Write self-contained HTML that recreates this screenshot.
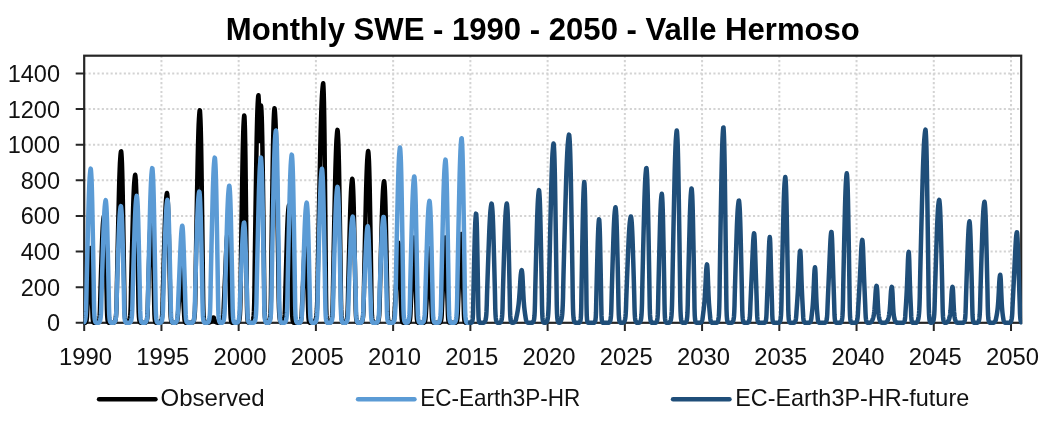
<!DOCTYPE html>
<html lang="en"><head><meta charset="utf-8"><title>Monthly SWE - 1990 - 2050 - Valle Hermoso</title>
<style>html,body{margin:0;padding:0;background:#fff;overflow:hidden}svg{display:block}</style></head>
<body>
<svg width="1058" height="427" viewBox="0 0 1058 427">
<rect width="1058" height="427" fill="#fff"/>
<path d="M84.2,287.18H1021.2M84.2,251.56H1021.2M84.2,215.94H1021.2M84.2,180.32H1021.2M84.2,144.70H1021.2M84.2,109.08H1021.2M84.2,73.46H1021.2M161.44,55.7V322.8M238.67,55.7V322.8M315.90,55.7V322.8M393.14,55.7V322.8M470.37,55.7V322.8M547.61,55.7V322.8M624.85,55.7V322.8M702.08,55.7V322.8M779.32,55.7V322.8M856.55,55.7V322.8M933.78,55.7V322.8M1011.02,55.7V322.8" stroke="#d3d3d3" stroke-width="2" stroke-dasharray="2.1 2.3" fill="none"/>
<defs><clipPath id="c"><rect x="83.60000000000001" y="55.7" width="938.6" height="269.70000000000005"/></clipPath></defs>
<path d="M75.7,322.80H84.2M75.7,287.18H84.2M75.7,251.56H84.2M75.7,215.94H84.2M75.7,180.32H84.2M75.7,144.70H84.2M75.7,109.08H84.2M75.7,73.46H84.2M84.20,322.8V330.90000000000003M161.44,322.8V330.90000000000003M238.67,322.8V330.90000000000003M315.90,322.8V330.90000000000003M393.14,322.8V330.90000000000003M470.37,322.8V330.90000000000003M547.61,322.8V330.90000000000003M624.85,322.8V330.90000000000003M702.08,322.8V330.90000000000003M779.32,322.8V330.90000000000003M856.55,322.8V330.90000000000003M933.78,322.8V330.90000000000003M1011.02,322.8V330.90000000000003" stroke="#262626" stroke-width="2" fill="none"/>
<rect x="84.2" y="55.7" width="937.0" height="267.1" fill="none" stroke="#262626" stroke-width="2.2"/>
<g clip-path="url(#c)" fill="none" stroke-linejoin="round" stroke-linecap="round">
<path d="M84.20,322.80 L84.45,322.79 L84.70,322.78 L84.95,322.77 L85.20,322.74 L85.45,322.62 L85.70,322.40 L85.95,322.07 L86.20,321.58 L86.45,320.75 L86.70,319.39 L86.95,316.85 L87.20,311.69 L87.45,306.86 L87.70,302.07 L87.95,297.12 L88.20,291.99 L88.45,286.41 L88.70,280.10 L88.95,273.06 L89.20,265.93 L89.45,258.31 L89.70,252.75 L89.95,249.56 L90.20,248.00 L90.45,250.57 L90.70,256.33 L90.95,266.37 L91.20,275.98 L91.45,284.99 L91.70,292.61 L91.95,299.46 L92.20,306.03 L92.45,312.69 L92.70,318.37 L92.95,320.62 L93.20,321.71 L93.45,322.28 L93.70,322.61 L93.95,322.75 L94.20,322.78 L94.45,322.79 L94.70,322.80 L94.95,322.80 L95.20,322.80 L95.45,322.80 L95.70,322.80 L95.95,322.80 L96.20,322.80 L96.45,322.80 L96.70,322.79 L96.95,322.77 L97.20,322.74 L97.45,322.71 L97.70,322.66 L97.95,322.52 L98.20,322.29 L98.45,322.00 L98.70,321.57 L98.95,320.92 L99.20,319.95 L99.45,318.31 L99.70,315.65 L99.95,310.83 L100.20,301.23 L100.45,292.12 L100.70,283.94 L100.95,275.81 L101.20,267.94 L101.45,260.31 L101.70,252.94 L101.95,245.57 L102.20,238.56 L102.45,232.96 L102.70,228.05 L102.95,223.93 L103.20,221.02 L103.45,218.82 L103.70,217.05 L103.95,216.03 L104.20,216.88 L104.45,219.31 L104.70,222.57 L104.95,227.78 L105.20,234.49 L105.45,242.99 L105.70,252.94 L105.95,262.97 L106.20,273.46 L106.45,284.42 L106.70,295.62 L106.95,309.21 L107.20,316.07 L107.45,319.17 L107.70,320.79 L107.95,321.66 L108.20,322.16 L108.45,322.49 L108.70,322.68 L108.95,322.73 L109.20,322.77 L109.45,322.79 L109.70,322.80 L109.95,322.80 L110.20,322.80 L110.45,322.80 L110.70,322.80 L110.95,322.80 L111.20,322.80 L111.45,322.80 L111.70,322.80 L111.95,322.80 L112.20,322.80 L112.45,322.80 L112.70,322.80 L112.95,322.78 L113.20,322.76 L113.45,322.73 L113.70,322.68 L113.95,322.63 L114.20,322.51 L114.45,322.26 L114.70,321.91 L114.95,321.49 L115.20,320.86 L115.45,319.95 L115.70,318.68 L115.95,316.61 L116.20,313.56 L116.45,308.17 L116.70,299.18 L116.95,283.81 L117.20,271.32 L117.45,259.50 L117.70,247.74 L117.95,236.30 L118.20,225.20 L118.45,214.41 L118.70,203.85 L118.95,193.21 L119.20,183.79 L119.45,176.17 L119.70,169.25 L119.95,163.45 L120.20,159.26 L120.45,156.03 L120.70,153.31 L120.95,151.46 L121.20,151.39 L121.45,154.03 L121.70,158.08 L121.95,163.45 L122.20,171.59 L122.45,181.46 L122.70,193.82 L122.95,208.24 L123.20,222.63 L123.45,237.63 L123.70,253.25 L123.95,269.23 L124.20,286.36 L124.45,304.63 L124.70,313.08 L124.95,317.18 L125.20,319.49 L125.45,320.81 L125.70,321.62 L125.95,322.14 L126.20,322.51 L126.45,322.65 L126.70,322.71 L126.95,322.76 L127.20,322.77 L127.45,322.75 L127.70,322.71 L127.95,322.67 L128.20,322.61 L128.45,322.43 L128.70,322.16 L128.95,321.82 L129.20,321.37 L129.45,320.69 L129.70,319.75 L129.95,318.28 L130.20,316.01 L130.45,312.36 L130.70,306.22 L130.95,294.45 L131.20,282.63 L131.45,272.37 L131.70,262.19 L131.95,252.21 L132.20,242.55 L132.45,233.14 L132.70,224.04 L132.95,214.82 L133.20,206.13 L133.45,199.09 L133.70,192.87 L133.95,187.43 L134.20,183.22 L134.45,180.26 L134.70,177.71 L134.95,175.78 L135.20,174.80 L135.45,176.37 L135.70,179.46 L135.95,183.42 L136.20,189.55 L136.45,197.58 L136.70,207.08 L136.95,219.17 L137.20,231.51 L137.45,244.24 L137.70,257.46 L137.95,271.18 L138.20,285.15 L138.45,302.32 L138.70,312.07 L138.95,316.76 L139.20,319.32 L139.45,320.69 L139.70,321.56 L139.95,322.07 L140.20,322.45 L140.45,322.65 L140.70,322.71 L140.95,322.75 L141.20,322.78 L141.45,322.80 L141.70,322.80 L141.95,322.80 L142.20,322.80 L142.45,322.80 L142.70,322.80 L142.95,322.80 L143.20,322.80 L143.45,322.80 L143.70,322.80 L143.95,322.80 L144.20,322.80 L144.45,322.79 L144.70,322.78 L144.95,322.76 L145.20,322.73 L145.45,322.69 L145.70,322.58 L145.95,322.36 L146.20,322.08 L146.45,321.67 L146.70,321.02 L146.95,320.04 L147.20,318.34 L147.45,315.47 L147.70,310.18 L147.95,299.49 L148.20,290.27 L148.45,281.63 L148.70,273.09 L148.95,264.86 L149.20,256.89 L149.45,249.16 L149.70,241.41 L149.95,234.86 L150.20,229.49 L150.45,224.85 L150.70,221.47 L150.95,219.08 L151.20,217.15 L151.45,216.03 L151.70,216.97 L151.95,219.62 L152.20,223.28 L152.45,229.19 L152.70,236.58 L152.95,246.38 L153.20,256.89 L153.45,267.73 L153.70,279.09 L153.95,290.78 L154.20,304.25 L154.45,314.45 L154.70,318.58 L154.95,320.57 L155.20,321.57 L155.45,322.13 L155.70,322.49 L155.95,322.68 L156.20,322.74 L156.45,322.77 L156.70,322.79 L156.95,322.80 L157.20,322.80 L157.45,322.80 L157.70,322.80 L157.95,322.80 L158.20,322.80 L158.45,322.80 L158.70,322.79 L158.95,322.78 L159.20,322.76 L159.45,322.73 L159.70,322.70 L159.95,322.65 L160.20,322.52 L160.45,322.29 L160.70,322.01 L160.95,321.64 L161.20,321.09 L161.45,320.31 L161.70,319.15 L161.95,317.30 L162.20,314.46 L162.45,309.51 L162.70,300.38 L162.95,289.44 L163.20,280.34 L163.45,271.41 L163.70,262.61 L163.95,254.08 L164.20,245.78 L164.45,237.74 L164.70,229.69 L164.95,221.88 L165.20,215.42 L165.45,209.86 L165.70,204.93 L165.95,200.99 L166.20,198.25 L166.45,195.93 L166.70,194.11 L166.95,193.06 L167.20,193.94 L167.45,196.44 L167.70,199.74 L167.95,204.66 L168.20,211.45 L168.45,219.40 L168.70,229.69 L168.95,240.54 L169.20,251.61 L169.45,263.12 L169.70,275.09 L169.95,287.24 L170.20,301.80 L170.45,312.11 L170.70,316.90 L170.95,319.40 L171.20,320.75 L171.45,321.59 L171.70,322.08 L171.95,322.43 L172.20,322.65 L172.45,322.71 L172.70,322.75 L172.95,322.78 L173.20,322.80 L173.45,322.80 L173.70,322.80 L173.95,322.80 L174.20,322.80 L174.45,322.80 L174.70,322.79 L174.95,322.79 L175.20,322.78 L175.45,322.77 L175.70,322.73 L175.95,322.62 L176.20,322.44 L176.45,322.20 L176.70,321.87 L176.95,321.37 L177.20,320.60 L177.45,319.43 L177.70,317.53 L177.95,313.96 L178.20,310.69 L178.45,307.46 L178.70,304.08 L178.95,300.54 L179.20,296.78 L179.45,292.57 L179.70,287.77 L179.95,282.15 L180.20,276.24 L180.45,269.92 L180.70,263.59 L180.95,259.40 L181.20,256.72 L181.45,255.21 L181.70,256.47 L181.95,260.12 L182.20,267.18 L182.45,275.90 L182.70,283.85 L182.95,290.94 L183.20,296.78 L183.45,301.81 L183.70,306.48 L183.95,310.87 L184.20,315.55 L184.45,319.06 L184.70,320.70 L184.95,321.63 L185.20,322.15 L185.45,322.48 L185.70,322.69 L185.95,322.77 L186.20,322.78 L186.45,322.79 L186.70,322.80 L186.95,322.80 L187.20,322.80 L187.45,322.80 L187.70,322.80 L187.95,322.80 L188.20,322.80 L188.45,322.80 L188.70,322.80 L188.95,322.80 L189.20,322.80 L189.45,322.80 L189.70,322.80 L189.95,322.80 L190.20,322.80 L190.45,322.80 L190.70,322.80 L190.95,322.80 L191.20,322.80 L191.45,322.79 L191.70,322.77 L191.95,322.74 L192.20,322.70 L192.45,322.64 L192.70,322.58 L192.95,322.39 L193.20,322.05 L193.45,321.60 L193.70,321.04 L193.95,320.20 L194.20,319.00 L194.45,317.27 L194.70,314.48 L194.95,310.31 L195.20,302.90 L195.45,289.93 L195.70,271.22 L195.95,256.06 L196.20,241.41 L196.45,226.90 L196.70,212.82 L196.95,199.13 L197.20,185.85 L197.45,172.71 L197.70,159.68 L197.95,148.52 L198.20,139.28 L198.45,130.92 L198.70,124.08 L198.95,119.28 L199.20,115.37 L199.45,112.18 L199.70,110.16 L199.95,110.82 L200.20,114.53 L200.45,119.77 L200.70,127.08 L200.95,137.72 L201.20,150.27 L201.45,166.46 L201.70,184.32 L201.95,202.32 L202.20,221.04 L202.45,240.55 L202.70,260.39 L202.95,282.94 L203.20,302.90 L203.45,312.04 L203.70,316.57 L203.95,319.08 L204.20,320.59 L204.45,321.48 L204.70,322.10 L204.95,322.50 L205.20,322.63 L205.45,322.71 L205.70,322.76 L205.95,322.79 L206.20,322.80 L206.45,322.80 L206.70,322.80 L206.95,322.79 L207.20,322.78 L207.45,322.77 L207.70,322.75 L207.95,322.73 L208.20,322.70 L208.45,322.67 L208.70,322.62 L208.95,322.58 L209.20,322.52 L209.45,322.45 L209.70,322.36 L209.95,322.27 L210.20,322.15 L210.45,322.01 L210.70,321.84 L210.95,321.62 L211.20,321.34 L211.45,320.99 L211.70,320.51 L211.95,319.98 L212.20,319.39 L212.45,318.72 L212.70,318.15 L212.95,317.83 L213.20,317.59 L213.45,317.46 L213.70,317.57 L213.95,317.90 L214.20,318.46 L214.45,319.35 L214.70,320.14 L214.95,320.84 L215.20,321.34 L215.45,321.70 L215.70,321.96 L215.95,322.16 L216.20,322.31 L216.45,322.43 L216.70,322.53 L216.95,322.60 L217.20,322.66 L217.45,322.71 L217.70,322.74 L217.95,322.77 L218.20,322.79 L218.45,322.80 L218.70,322.80 L218.95,322.80 L219.20,322.80 L219.45,322.80 L219.70,322.80 L219.95,322.80 L220.20,322.79 L220.45,322.78 L220.70,322.77 L220.95,322.75 L221.20,322.71 L221.45,322.61 L221.70,322.43 L221.95,322.20 L222.20,321.85 L222.45,321.36 L222.70,320.63 L222.95,319.44 L223.20,317.58 L223.45,314.35 L223.70,308.06 L223.95,302.01 L224.20,296.49 L224.45,290.91 L224.70,285.36 L224.95,279.83 L225.20,274.23 L225.45,268.35 L225.70,262.26 L225.95,256.44 L226.20,250.87 L226.45,245.30 L226.70,240.56 L226.95,237.40 L227.20,235.12 L227.45,233.84 L227.70,234.91 L227.95,238.02 L228.20,243.17 L228.45,250.55 L228.70,258.12 L228.95,266.21 L229.20,274.23 L229.45,281.78 L229.70,289.27 L229.95,296.81 L230.20,304.35 L230.45,313.27 L230.70,317.86 L230.95,320.06 L231.20,321.25 L231.45,321.92 L231.70,322.33 L231.95,322.60 L232.20,322.73 L232.45,322.76 L232.70,322.78 L232.95,322.79 L233.20,322.80 L233.45,322.80 L233.70,322.80 L233.95,322.80 L234.20,322.80 L234.45,322.80 L234.70,322.80 L234.95,322.80 L235.20,322.80 L235.45,322.80 L235.70,322.80 L235.95,322.80 L236.20,322.80 L236.45,322.80 L236.70,322.80 L236.95,322.80 L237.20,322.79 L237.45,322.76 L237.70,322.72 L237.95,322.66 L238.20,322.59 L238.45,322.39 L238.70,321.98 L238.95,321.43 L239.20,320.67 L239.45,319.45 L239.70,317.63 L239.95,314.46 L240.20,309.24 L240.45,299.50 L240.70,279.71 L240.95,261.42 L241.20,244.70 L241.45,228.16 L241.70,212.18 L241.95,196.70 L242.20,181.76 L242.45,166.69 L242.70,153.50 L242.95,142.96 L243.20,133.69 L243.45,126.65 L243.70,121.88 L243.95,117.93 L244.20,115.41 L244.45,116.45 L244.70,121.88 L244.95,129.83 L245.20,142.96 L245.45,159.68 L245.70,181.76 L245.95,204.37 L246.20,228.16 L246.45,253.06 L246.70,279.71 L246.95,304.96 L247.20,314.46 L247.45,318.66 L247.70,320.67 L247.95,321.72 L248.20,322.39 L248.45,322.63 L248.70,322.72 L248.95,322.78 L249.20,322.80 L249.45,322.80 L249.70,322.80 L249.95,322.80 L250.20,322.80 L250.45,322.80 L250.70,322.80 L250.95,322.79 L251.20,322.76 L251.45,322.71 L251.70,322.66 L251.95,322.58 L252.20,322.41 L252.45,322.02 L252.70,321.48 L252.95,320.79 L253.20,319.69 L253.45,318.11 L253.70,315.51 L253.95,311.40 L254.20,304.01 L254.45,290.68 L254.70,268.40 L254.95,250.38 L255.20,232.98 L255.45,215.84 L255.70,199.29 L255.95,183.22 L256.20,167.67 L256.45,151.96 L256.70,138.07 L256.95,126.96 L257.20,117.06 L257.45,109.21 L257.70,103.90 L257.95,99.49 L258.20,96.27 L258.45,95.28 L258.70,98.81 L258.95,104.75 L259.20,113.06 L259.45,125.72 L259.70,141.03 L259.95,129.03 L260.20,119.34 L260.45,113.10 L260.70,108.24 L260.95,105.39 L261.20,106.79 L261.45,110.99 L261.70,116.52 L261.95,124.77 L262.20,136.15 L262.45,149.47 L262.70,166.72 L262.95,184.91 L263.20,203.47 L263.45,222.76 L263.70,242.82 L263.95,263.18 L264.20,287.60 L264.45,304.88 L264.70,312.91 L264.95,317.10 L265.20,319.36 L265.45,320.77 L265.70,321.59 L265.95,322.19 L266.20,322.54 L266.45,322.65 L266.70,322.72 L266.95,322.77 L267.20,322.79 L267.45,322.80 L267.70,322.80 L267.95,322.78 L268.20,322.74 L268.45,322.69 L268.70,322.62 L268.95,322.47 L269.20,322.08 L269.45,321.51 L269.70,320.73 L269.95,319.43 L270.20,317.45 L270.45,313.88 L270.70,307.65 L270.95,295.66 L271.20,272.41 L271.45,253.29 L271.70,234.84 L271.95,216.81 L272.20,199.46 L272.45,182.73 L272.70,166.09 L272.95,150.67 L273.20,138.64 L273.45,128.17 L273.70,120.23 L273.95,114.95 L274.20,110.69 L274.45,108.21 L274.70,109.13 L274.95,111.96 L275.20,115.87 L275.45,120.46 L275.70,127.14 L275.95,135.75 L276.20,145.54 L276.45,157.14 L276.70,171.06 L276.95,185.16 L277.20,199.46 L277.45,214.21 L277.70,229.43 L277.95,245.10 L278.20,260.85 L278.45,278.17 L278.70,297.52 L278.95,307.32 L279.20,313.02 L279.45,316.46 L279.70,318.61 L279.95,319.98 L280.20,320.94 L280.45,321.56 L280.70,322.05 L280.95,322.41 L281.20,322.59 L281.45,322.65 L281.70,322.71 L281.95,322.75 L282.20,322.74 L282.45,322.70 L282.70,322.65 L282.95,322.49 L283.20,322.24 L283.45,321.92 L283.70,321.45 L283.95,320.74 L284.20,319.67 L284.45,317.86 L284.70,314.93 L284.95,309.64 L285.20,299.07 L285.45,289.05 L285.70,280.05 L285.95,271.11 L286.20,262.45 L286.45,254.06 L286.70,245.95 L286.95,237.85 L287.20,230.14 L287.45,223.98 L287.70,218.58 L287.95,214.05 L288.20,210.84 L288.45,208.42 L288.70,206.47 L288.95,205.35 L289.20,206.29 L289.45,208.96 L289.70,212.54 L289.95,218.28 L290.20,225.66 L290.45,235.01 L290.70,245.95 L290.95,256.99 L291.20,268.53 L291.45,280.58 L291.70,292.90 L291.95,307.86 L292.20,315.39 L292.45,318.81 L292.70,320.59 L292.95,321.55 L293.20,322.10 L293.45,322.46 L293.70,322.67 L293.95,322.73 L294.20,322.76 L294.45,322.79 L294.70,322.80 L294.95,322.80 L295.20,322.80 L295.45,322.80 L295.70,322.80 L295.95,322.80 L296.20,322.80 L296.45,322.80 L296.70,322.80 L296.95,322.80 L297.20,322.80 L297.45,322.80 L297.70,322.80 L297.95,322.80 L298.20,322.80 L298.45,322.80 L298.70,322.79 L298.95,322.78 L299.20,322.76 L299.45,322.74 L299.70,322.68 L299.95,322.52 L300.20,322.29 L300.45,321.97 L300.70,321.51 L300.95,320.81 L301.20,319.66 L301.45,317.82 L301.70,314.58 L301.95,308.23 L302.20,302.63 L302.45,297.26 L302.70,291.83 L302.95,286.40 L303.20,280.90 L303.45,275.19 L303.70,269.07 L303.95,262.82 L304.20,256.79 L304.45,250.75 L304.70,245.16 L304.95,241.40 L305.20,238.86 L305.45,237.41 L305.70,238.61 L305.95,242.09 L306.20,248.29 L306.45,256.45 L306.70,264.61 L306.95,273.06 L307.20,280.90 L307.45,288.32 L307.70,295.66 L307.95,302.94 L308.20,311.06 L308.45,317.18 L308.70,319.82 L308.95,321.19 L309.20,321.90 L309.45,322.34 L309.70,322.61 L309.95,322.74 L310.20,322.76 L310.45,322.78 L310.70,322.80 L310.95,322.80 L311.20,322.80 L311.45,322.80 L311.70,322.80 L311.95,322.80 L312.20,322.80 L312.45,322.80 L312.70,322.80 L312.95,322.80 L313.20,322.80 L313.45,322.80 L313.70,322.80 L313.95,322.80 L314.20,322.47 L314.45,322.24 L314.70,321.92 L314.95,321.53 L315.20,321.09 L315.45,320.50 L315.70,319.68 L315.95,318.62 L316.20,317.25 L316.45,315.20 L316.70,312.38 L316.95,308.50 L317.20,302.27 L317.45,293.50 L317.70,277.75 L317.95,262.35 L318.20,249.20 L318.45,236.46 L318.70,223.71 L318.95,211.18 L319.20,198.97 L319.45,187.01 L319.70,175.32 L319.95,163.94 L320.20,152.40 L320.45,141.02 L320.70,130.75 L320.95,122.25 L321.20,114.39 L321.45,107.20 L321.70,101.03 L321.95,96.19 L322.20,92.54 L322.45,89.21 L322.70,86.40 L322.95,84.33 L323.20,83.26 L323.45,86.59 L323.70,93.08 L323.95,102.35 L324.20,116.75 L324.45,134.51 L324.70,157.77 L324.95,181.58 L325.20,206.45 L325.45,232.52 L325.70,259.23 L325.95,291.56 L326.20,308.11 L326.45,315.20 L326.70,318.71 L326.95,320.60 L327.20,321.63 L327.45,322.32 L327.70,322.59 L327.95,322.69 L328.20,322.76 L328.45,322.80 L328.70,322.79 L328.95,322.78 L329.20,322.75 L329.45,322.72 L329.70,322.67 L329.95,322.62 L330.20,322.52 L330.45,322.28 L330.70,321.93 L330.95,321.50 L331.20,320.94 L331.45,320.10 L331.70,318.96 L331.95,317.24 L332.20,314.59 L332.45,310.61 L332.70,303.79 L332.95,291.85 L333.20,275.78 L333.45,262.69 L333.70,250.05 L333.95,237.49 L334.20,225.28 L334.45,213.40 L334.70,201.84 L334.95,190.56 L335.20,179.12 L335.45,168.67 L335.70,160.22 L335.95,152.58 L336.20,145.91 L336.45,140.72 L336.70,137.04 L336.95,133.82 L337.20,131.31 L337.45,129.87 L337.70,131.08 L337.95,134.53 L338.20,139.12 L338.45,145.56 L338.70,154.75 L338.95,165.48 L339.20,179.12 L339.45,194.56 L339.70,209.96 L339.95,225.98 L340.20,242.63 L340.45,259.72 L340.70,277.41 L340.95,298.81 L341.20,309.63 L341.45,315.13 L341.70,318.26 L341.95,319.98 L342.20,321.10 L342.45,321.76 L342.70,322.26 L342.95,322.56 L343.20,322.66 L343.45,322.72 L343.70,322.76 L343.95,322.79 L344.20,322.78 L344.45,322.76 L344.70,322.73 L344.95,322.69 L345.20,322.65 L345.45,322.52 L345.70,322.29 L345.95,321.98 L346.20,321.61 L346.45,321.04 L346.70,320.23 L346.95,319.06 L347.20,317.16 L347.45,314.34 L347.70,309.32 L347.95,300.54 L348.20,287.87 L348.45,277.60 L348.70,267.68 L348.95,257.85 L349.20,248.32 L349.45,239.04 L349.70,230.05 L349.95,221.15 L350.20,212.32 L350.45,204.76 L350.70,198.51 L350.95,192.85 L351.20,188.22 L351.45,184.96 L351.70,182.31 L351.95,180.15 L352.20,178.79 L352.45,179.24 L352.70,181.75 L352.95,185.29 L353.20,190.24 L353.45,197.45 L353.70,205.95 L353.95,216.92 L354.20,229.01 L354.45,241.20 L354.70,253.88 L354.95,267.10 L355.20,280.53 L355.45,295.81 L355.70,309.32 L355.95,315.51 L356.20,318.58 L356.45,320.28 L356.70,321.30 L356.95,321.90 L357.20,322.32 L357.45,322.60 L357.70,322.69 L357.95,322.74 L358.20,322.77 L358.45,322.79 L358.70,322.80 L358.95,322.80 L359.20,322.80 L359.45,322.80 L359.70,322.80 L359.95,322.79 L360.20,322.77 L360.45,322.74 L360.70,322.70 L360.95,322.65 L361.20,322.58 L361.45,322.37 L361.70,322.06 L361.95,321.66 L362.20,321.14 L362.45,320.35 L362.70,319.26 L362.95,317.55 L363.20,314.92 L363.45,310.68 L363.70,303.55 L363.95,289.88 L364.20,276.15 L364.45,264.24 L364.70,252.42 L364.95,240.83 L365.20,229.61 L365.45,218.68 L365.70,208.11 L365.95,197.41 L366.20,187.32 L366.45,179.14 L366.70,171.91 L366.95,165.60 L367.20,160.71 L367.45,157.28 L367.70,154.31 L367.95,152.07 L368.20,150.93 L368.45,152.76 L368.70,156.35 L368.95,160.95 L369.20,168.06 L369.45,177.38 L369.70,188.42 L369.95,202.46 L370.20,216.79 L370.45,231.57 L370.70,246.92 L370.95,262.85 L371.20,279.08 L371.45,299.02 L371.70,310.34 L371.95,315.79 L372.20,318.76 L372.45,320.35 L372.70,321.36 L372.95,321.95 L373.20,322.39 L373.45,322.62 L373.70,322.69 L373.95,322.74 L374.20,322.78 L374.45,322.80 L374.70,322.80 L374.95,322.80 L375.20,322.80 L375.45,322.80 L375.70,322.80 L375.95,322.79 L376.20,322.77 L376.45,322.74 L376.70,322.70 L376.95,322.66 L377.20,322.56 L377.45,322.35 L377.70,322.06 L377.95,321.72 L378.20,321.20 L378.45,320.45 L378.70,319.40 L378.95,317.69 L379.20,315.17 L379.45,310.72 L379.70,303.29 L379.95,290.60 L380.20,280.28 L380.45,270.52 L380.70,260.81 L380.95,251.36 L381.20,242.19 L381.45,233.28 L381.70,224.56 L381.95,215.77 L382.20,207.99 L382.45,201.70 L382.70,195.98 L382.95,191.19 L383.20,187.73 L383.45,185.06 L383.70,182.81 L383.95,181.29 L384.20,181.23 L384.45,183.41 L384.70,186.76 L384.95,191.19 L385.20,197.92 L385.45,206.06 L385.70,216.27 L385.95,228.18 L386.20,240.07 L386.45,252.46 L386.70,265.36 L386.95,278.55 L387.20,292.70 L387.45,307.80 L387.70,314.77 L387.95,318.16 L388.20,320.07 L388.45,321.16 L388.70,321.83 L388.95,322.26 L389.20,322.56 L389.45,322.68 L389.70,322.73 L389.95,322.77 L390.20,322.79 L390.45,322.80 L390.70,322.80 L390.95,322.80 L391.20,322.79 L391.45,322.79 L391.70,322.77 L391.95,322.76 L392.20,322.74 L392.45,322.66 L392.70,322.50 L392.95,322.28 L393.20,321.98 L393.45,321.56 L393.70,320.93 L393.95,319.94 L394.20,318.43 L394.45,315.87 L394.70,310.99 L394.95,306.24 L395.20,301.85 L395.45,297.37 L395.70,292.83 L395.95,288.23 L396.20,283.43 L396.45,278.25 L396.70,272.66 L396.95,266.90 L397.20,261.23 L397.45,255.25 L397.70,249.94 L397.95,246.50 L398.20,244.09 L398.45,242.74 L398.70,243.87 L398.95,247.15 L399.20,252.88 L399.45,260.89 L399.70,268.59 L399.95,276.33 L400.20,283.43 L400.45,289.86 L400.70,296.04 L400.95,302.11 L401.20,308.09 L401.45,315.03 L401.70,318.66 L401.95,320.46 L402.20,321.47 L402.45,322.04 L402.70,322.40 L402.95,322.64 L403.20,322.74 L403.45,322.77 L403.70,322.78 L403.95,322.80 L404.20,322.80 L404.45,322.80 L404.70,322.80 L404.95,322.80 L405.20,322.80 L405.45,322.80 L405.70,322.80 L405.95,322.80 L406.20,322.80 L406.45,322.80 L406.70,322.80 L406.95,322.80 L407.20,322.80 L407.45,322.79 L407.70,322.78 L407.95,322.77 L408.20,322.75 L408.45,322.71 L408.70,322.58 L408.95,322.36 L409.20,322.05 L409.45,321.58 L409.70,320.88 L409.95,319.68 L410.20,317.69 L410.45,314.05 L410.70,307.18 L410.95,301.36 L411.20,295.63 L411.45,289.86 L411.70,284.08 L411.95,278.16 L412.20,271.85 L412.45,265.19 L412.70,258.72 L412.95,252.37 L413.20,246.15 L413.45,241.80 L413.70,239.02 L413.95,237.41 L414.20,238.75 L414.45,242.60 L414.70,249.69 L414.95,258.35 L415.20,267.17 L415.45,276.01 L415.70,284.08 L415.95,291.89 L416.20,299.69 L416.45,307.54 L416.70,315.79 L416.95,319.31 L417.20,320.98 L417.45,321.82 L417.70,322.31 L417.95,322.61 L418.20,322.74 L418.45,322.77 L418.70,322.79 L418.95,322.80 L419.20,322.80 L419.45,322.80 L419.70,322.80 L419.95,322.80 L420.20,322.80 L420.45,322.80 L420.70,322.80 L420.95,322.80 L421.20,322.80 L421.45,322.80 L421.70,322.80 L421.95,322.80 L422.20,322.80 L422.45,322.80 L422.70,322.80 L422.95,322.79 L423.20,322.78 L423.45,322.77 L423.70,322.75 L423.95,322.67 L424.20,322.49 L424.45,322.24 L424.70,321.88 L424.95,321.35 L425.20,320.48 L425.45,319.12 L425.70,316.72 L425.95,312.02 L426.20,307.61 L426.45,303.33 L426.70,298.91 L426.95,294.38 L427.20,289.60 L427.45,284.34 L427.70,278.43 L427.95,272.06 L428.20,265.63 L428.45,258.74 L428.70,253.39 L428.95,250.28 L429.20,248.28 L429.45,248.92 L429.70,252.56 L429.95,259.52 L430.20,268.67 L430.45,277.32 L430.70,285.32 L430.95,292.18 L431.20,298.39 L431.45,304.35 L431.70,310.13 L431.95,316.54 L432.20,319.60 L432.45,321.09 L432.70,321.88 L432.95,322.34 L433.20,322.62 L433.45,322.75 L433.70,322.77 L433.95,322.79 L434.20,322.80 L434.45,322.80 L434.70,322.80 L434.95,322.80 L435.20,322.80 L435.45,322.80 L435.70,322.80 L435.95,322.80 L436.20,322.80 L436.45,322.80 L436.70,322.80 L436.95,322.80 L437.20,322.80 L437.45,322.80 L437.70,322.80 L437.95,322.80 L438.20,322.80 L438.45,322.80 L438.70,322.80 L438.95,322.79 L439.20,322.77 L439.45,322.75 L439.70,322.72 L439.95,322.61 L440.20,322.41 L440.45,322.12 L440.70,321.69 L440.95,321.05 L441.20,319.96 L441.45,318.21 L441.70,314.97 L441.95,308.47 L442.20,302.49 L442.45,296.79 L442.70,291.01 L442.95,285.24 L443.20,279.36 L443.45,273.15 L443.70,266.53 L443.95,260.01 L444.20,253.67 L444.45,247.29 L444.70,242.47 L444.95,239.51 L445.20,237.60 L445.45,238.21 L445.70,241.69 L445.95,248.00 L446.20,256.64 L446.45,265.35 L446.70,274.29 L446.95,282.50 L447.20,290.33 L447.45,298.14 L447.70,305.90 L447.95,314.73 L448.20,318.84 L448.45,320.73 L448.70,321.69 L448.95,322.24 L449.20,322.56 L449.45,322.73 L449.70,322.76 L449.95,322.78 L450.20,322.80 L450.45,322.80 L450.70,322.80 L450.95,322.80 L451.20,322.80 L451.45,322.80 L451.70,322.80 L451.95,322.80 L452.20,322.80 L452.45,322.80 L452.70,322.80 L452.95,322.80 L453.20,322.80 L453.45,322.80 L453.70,322.80 L453.95,322.80 L454.20,322.80 L454.45,322.80 L454.70,322.80 L454.95,322.79 L455.20,322.77 L455.45,322.75 L455.70,322.71 L455.95,322.60 L456.20,322.38 L456.45,322.08 L456.70,321.62 L456.95,320.95 L457.20,319.78 L457.45,317.88 L457.70,314.35 L457.95,307.18 L458.20,300.62 L458.45,294.39 L458.70,288.13 L458.95,281.91 L459.20,275.64 L459.45,269.10 L459.70,262.26 L459.95,255.73 L460.20,249.48 L460.45,243.35 L460.70,238.77 L460.95,235.89 L461.20,234.03 L461.45,234.63 L461.70,238.02 L461.95,244.02 L462.20,252.40 L462.45,261.06 L462.70,270.30 L462.95,278.97 L463.20,287.39 L463.45,295.87 L463.70,304.35 L463.95,314.08 L464.20,318.57 L464.45,320.60 L464.70,321.62 L464.95,322.20 L465.20,322.54 L465.45,322.72 L465.70,322.76 L465.95,322.78 L466.20,322.80 L466.45,322.80 L466.70,322.80 L466.95,322.80 L467.20,322.80 L467.45,322.80 L467.70,322.80 L467.95,322.80 L468.20,322.80 L468.45,322.80 L468.70,322.80 L468.95,322.80 L469.20,322.80 L469.45,322.80 L469.70,322.80 L469.95,322.80" stroke="#000" stroke-width="4.5"/>
<path d="M84.20,322.13 L84.45,321.78 L84.70,321.31 L84.95,320.60 L85.20,319.63 L85.45,318.09 L85.70,315.72 L85.95,311.92 L86.20,305.53 L86.45,293.26 L86.70,280.94 L86.95,270.25 L87.20,259.64 L87.45,249.24 L87.70,239.17 L87.95,229.36 L88.20,219.88 L88.45,210.27 L88.70,201.22 L88.95,193.88 L89.20,187.39 L89.45,181.73 L89.70,177.34 L89.95,174.26 L90.20,171.60 L90.45,169.59 L90.70,168.57 L90.95,170.20 L91.20,173.43 L91.45,177.55 L91.70,183.93 L91.95,192.30 L92.20,202.21 L92.45,214.80 L92.70,227.67 L92.95,240.93 L93.20,254.71 L93.45,269.00 L93.70,283.57 L93.95,301.46 L94.20,311.62 L94.45,316.51 L94.70,319.17 L94.95,320.60 L95.20,321.51 L95.45,322.04 L95.70,322.43 L95.95,322.64 L96.20,322.70 L96.45,322.75 L96.70,322.78 L96.95,322.80 L97.20,322.80 L97.45,322.79 L97.70,322.78 L97.95,322.76 L98.20,322.73 L98.45,322.70 L98.70,322.64 L98.95,322.50 L99.20,322.27 L99.45,321.99 L99.70,321.62 L99.95,321.05 L100.20,320.27 L100.45,319.05 L100.70,317.17 L100.95,314.15 L101.20,309.06 L101.45,299.30 L101.70,289.50 L101.95,280.99 L102.20,272.55 L102.45,264.28 L102.70,256.26 L102.95,248.46 L103.20,240.91 L103.45,233.27 L103.70,226.07 L103.95,220.23 L104.20,215.07 L104.45,210.56 L104.70,207.07 L104.95,204.62 L105.20,202.50 L105.45,200.90 L105.70,200.09 L105.95,201.39 L106.20,203.96 L106.45,207.24 L106.70,212.32 L106.95,218.97 L107.20,226.86 L107.45,236.88 L107.70,247.11 L107.95,257.66 L108.20,268.62 L108.45,280.00 L108.70,291.59 L108.95,305.82 L109.20,313.90 L109.45,317.79 L109.70,319.92 L109.95,321.05 L110.20,321.77 L110.45,322.19 L110.70,322.51 L110.95,322.67 L111.20,322.72 L111.45,322.76 L111.70,322.79 L111.95,322.80 L112.20,322.80 L112.45,322.80 L112.70,322.79 L112.95,322.78 L113.20,322.75 L113.45,322.73 L113.70,322.69 L113.95,322.63 L114.20,322.47 L114.45,322.25 L114.70,321.97 L114.95,321.58 L115.20,321.00 L115.45,320.21 L115.70,318.92 L115.95,317.00 L116.20,313.75 L116.45,308.42 L116.70,298.27 L116.95,289.44 L117.20,281.38 L117.45,273.36 L117.70,265.53 L117.95,257.95 L118.20,250.56 L118.45,243.40 L118.70,236.12 L118.95,229.47 L119.20,224.13 L119.45,219.31 L119.70,215.18 L119.95,212.09 L120.20,209.85 L120.45,207.91 L120.70,206.52 L120.95,206.09 L121.20,207.62 L121.45,210.23 L121.70,213.58 L121.95,218.78 L122.20,225.32 L122.45,233.25 L122.70,242.97 L122.95,252.71 L123.20,262.83 L123.45,273.36 L123.70,284.21 L123.95,295.44 L124.20,308.85 L124.45,315.34 L124.70,318.53 L124.95,320.32 L125.20,321.30 L125.45,321.92 L125.70,322.29 L125.95,322.57 L126.20,322.69 L126.45,322.73 L126.70,322.77 L126.95,322.79 L127.20,322.80 L127.45,322.80 L127.70,322.80 L127.95,322.80 L128.20,322.80 L128.45,322.80 L128.70,322.78 L128.95,322.76 L129.20,322.74 L129.45,322.71 L129.70,322.67 L129.95,322.56 L130.20,322.35 L130.45,322.08 L130.70,321.75 L130.95,321.25 L131.20,320.53 L131.45,319.50 L131.70,317.83 L131.95,315.34 L132.20,310.92 L132.45,303.18 L132.70,292.01 L132.95,282.96 L133.20,274.21 L133.45,265.55 L133.70,257.14 L133.95,248.97 L134.20,241.04 L134.45,233.20 L134.70,225.42 L134.95,218.75 L135.20,213.24 L135.45,208.25 L135.70,204.17 L135.95,201.30 L136.20,198.96 L136.45,197.06 L136.70,195.86 L136.95,196.25 L137.20,198.47 L137.45,201.59 L137.70,205.95 L137.95,212.31 L138.20,219.80 L138.45,229.47 L138.70,240.13 L138.95,250.87 L139.20,262.05 L139.45,273.70 L139.70,285.54 L139.95,299.01 L140.20,310.92 L140.45,316.37 L140.70,319.08 L140.95,320.58 L141.20,321.48 L141.45,322.01 L141.70,322.38 L141.95,322.62 L142.20,322.70 L142.45,322.74 L142.70,322.78 L142.95,322.79 L143.20,322.80 L143.45,322.80 L143.70,322.80 L143.95,322.79 L144.20,322.78 L144.45,322.76 L144.70,322.73 L144.95,322.69 L145.20,322.64 L145.45,322.50 L145.70,322.25 L145.95,321.92 L146.20,321.52 L146.45,320.91 L146.70,320.04 L146.95,318.78 L147.20,316.74 L147.45,313.71 L147.70,308.32 L147.95,298.89 L148.20,285.28 L148.45,274.25 L148.70,263.60 L148.95,253.04 L149.20,242.80 L149.45,232.84 L149.70,223.18 L149.95,213.62 L150.20,204.14 L150.45,196.02 L150.70,189.30 L150.95,183.23 L151.20,178.25 L151.45,174.75 L151.70,171.91 L151.95,169.59 L152.20,168.12 L152.45,168.60 L152.70,171.30 L152.95,175.11 L153.20,180.42 L153.45,188.17 L153.70,197.30 L153.95,209.07 L154.20,222.06 L154.45,235.16 L154.70,248.78 L154.95,262.97 L155.20,277.40 L155.45,293.81 L155.70,308.32 L155.95,314.97 L156.20,318.27 L156.45,320.09 L156.70,321.19 L156.95,321.84 L157.20,322.29 L157.45,322.58 L157.70,322.68 L157.95,322.73 L158.20,322.77 L158.45,322.79 L158.70,322.80 L158.95,322.80 L159.20,322.79 L159.45,322.78 L159.70,322.76 L159.95,322.74 L160.20,322.70 L160.45,322.66 L160.70,322.53 L160.95,322.32 L161.20,322.05 L161.45,321.70 L161.70,321.17 L161.95,320.44 L162.20,319.34 L162.45,317.59 L162.70,314.89 L162.95,310.20 L163.20,301.55 L163.45,291.18 L163.70,282.55 L163.95,274.09 L164.20,265.74 L164.45,257.66 L164.70,249.79 L164.95,242.17 L165.20,234.54 L165.45,227.14 L165.70,221.01 L165.95,215.75 L166.20,211.07 L166.45,207.34 L166.70,204.74 L166.95,202.54 L167.20,200.81 L167.45,199.82 L167.70,200.65 L167.95,203.03 L168.20,206.16 L168.45,210.82 L168.70,217.25 L168.95,224.79 L169.20,234.54 L169.45,244.83 L169.70,255.32 L169.95,266.23 L170.20,277.58 L170.45,289.09 L170.70,302.90 L170.95,312.67 L171.20,317.21 L171.45,319.58 L171.70,320.86 L171.95,321.65 L172.20,322.11 L172.45,322.45 L172.70,322.65 L172.95,322.71 L173.20,322.75 L173.45,322.78 L173.70,322.80 L173.95,322.80 L174.20,322.79 L174.45,322.78 L174.70,322.76 L174.95,322.74 L175.20,322.71 L175.45,322.64 L175.70,322.49 L175.95,322.29 L176.20,322.03 L176.45,321.66 L176.70,321.14 L176.95,320.39 L177.20,319.20 L177.45,317.45 L177.70,314.42 L177.95,309.16 L178.20,301.60 L178.45,295.41 L178.70,289.40 L178.95,283.40 L179.20,277.50 L179.45,271.69 L179.70,265.93 L179.95,260.10 L180.20,254.14 L180.45,248.61 L180.70,243.66 L180.95,238.97 L181.20,234.62 L181.45,231.25 L181.70,228.82 L181.95,226.94 L182.20,225.75 L182.45,226.13 L182.70,228.33 L182.95,231.59 L183.20,236.59 L183.45,242.81 L183.70,249.52 L183.95,257.28 L184.20,265.26 L184.45,273.05 L184.70,280.95 L184.95,289.05 L185.20,297.19 L185.45,306.34 L185.70,314.42 L185.95,318.17 L186.20,320.09 L186.45,321.17 L186.70,321.83 L186.95,322.23 L187.20,322.51 L187.45,322.68 L187.70,322.73 L187.95,322.76 L188.20,322.78 L188.45,322.80 L188.70,322.80 L188.95,322.80 L189.20,322.80 L189.45,322.80 L189.70,322.80 L189.95,322.80 L190.20,322.80 L190.45,322.80 L190.70,322.80 L190.95,322.80 L191.20,322.78 L191.45,322.76 L191.70,322.74 L191.95,322.70 L192.20,322.66 L192.45,322.55 L192.70,322.34 L192.95,322.06 L193.20,321.72 L193.45,321.19 L193.70,320.45 L193.95,319.39 L194.20,317.66 L194.45,315.09 L194.70,310.52 L194.95,302.52 L195.20,290.97 L195.45,281.62 L195.70,272.58 L195.95,263.63 L196.20,254.94 L196.45,246.49 L196.70,238.29 L196.95,230.19 L197.20,222.14 L197.45,215.26 L197.70,209.56 L197.95,204.40 L198.20,200.18 L198.45,197.22 L198.70,194.80 L198.95,192.83 L199.20,191.59 L199.45,192.00 L199.70,194.29 L199.95,197.52 L200.20,202.03 L200.45,208.60 L200.70,216.34 L200.95,226.33 L201.20,237.35 L201.45,248.45 L201.70,260.01 L201.95,272.05 L202.20,284.29 L202.45,298.21 L202.70,310.52 L202.95,316.16 L203.20,318.96 L203.45,320.50 L203.70,321.44 L203.95,321.98 L204.20,322.37 L204.45,322.62 L204.70,322.70 L204.95,322.74 L205.20,322.77 L205.45,322.79 L205.70,322.80 L205.95,322.80 L206.20,322.80 L206.45,322.79 L206.70,322.78 L206.95,322.75 L207.20,322.72 L207.45,322.68 L207.70,322.63 L207.95,322.48 L208.20,322.22 L208.45,321.87 L208.70,321.44 L208.95,320.78 L209.20,319.85 L209.45,318.51 L209.70,316.33 L209.95,313.09 L210.20,307.34 L210.45,297.27 L210.70,282.74 L210.95,270.96 L211.20,259.58 L211.45,248.31 L211.70,237.37 L211.95,226.74 L212.20,216.42 L212.45,206.22 L212.70,196.09 L212.95,187.42 L213.20,180.25 L213.45,173.76 L213.70,168.45 L213.95,164.71 L214.20,161.67 L214.45,159.20 L214.70,157.63 L214.95,158.14 L215.20,161.03 L215.45,165.09 L215.70,170.77 L215.95,179.04 L216.20,188.78 L216.45,201.36 L216.70,215.23 L216.95,229.21 L217.20,243.76 L217.45,258.91 L217.70,274.32 L217.95,291.84 L218.20,307.34 L218.45,314.44 L218.70,317.96 L218.95,319.91 L219.20,321.08 L219.45,321.77 L219.70,322.25 L219.95,322.57 L220.20,322.67 L220.45,322.73 L220.70,322.77 L220.95,322.79 L221.20,322.78 L221.45,322.76 L221.70,322.73 L221.95,322.70 L222.20,322.66 L222.45,322.54 L222.70,322.32 L222.95,322.02 L223.20,321.67 L223.45,321.12 L223.70,320.35 L223.95,319.24 L224.20,317.43 L224.45,314.75 L224.70,309.97 L224.95,301.61 L225.20,289.55 L225.45,279.77 L225.70,270.33 L225.95,260.98 L226.20,251.90 L226.45,243.07 L226.70,234.51 L226.95,226.04 L227.20,217.64 L227.45,210.45 L227.70,204.49 L227.95,199.11 L228.20,194.70 L228.45,191.60 L228.70,189.08 L228.95,187.02 L229.20,185.72 L229.45,186.15 L229.70,188.54 L229.95,191.91 L230.20,196.63 L230.45,203.49 L230.70,211.58 L230.95,222.02 L231.20,233.53 L231.45,245.13 L231.70,257.20 L231.95,269.78 L232.20,282.57 L232.45,297.11 L232.70,309.97 L232.95,315.86 L233.20,318.78 L233.45,320.40 L233.70,321.37 L233.95,321.95 L234.20,322.35 L234.45,322.61 L234.70,322.69 L234.95,322.74 L235.20,322.77 L235.45,322.79 L235.70,322.80 L235.95,322.79 L236.20,322.78 L236.45,322.76 L236.70,322.74 L236.95,322.71 L237.20,322.65 L237.45,322.51 L237.70,322.30 L237.95,322.06 L238.20,321.69 L238.45,321.18 L238.70,320.46 L238.95,319.30 L239.20,317.61 L239.45,314.67 L239.70,309.80 L239.95,301.52 L240.20,294.74 L240.45,288.30 L240.70,281.86 L240.95,275.56 L241.20,269.38 L241.45,263.31 L241.70,257.27 L241.95,251.08 L242.20,245.34 L242.45,240.41 L242.70,235.80 L242.95,231.59 L243.20,228.29 L243.45,225.89 L243.70,223.99 L243.95,222.70 L244.20,222.65 L244.45,224.50 L244.70,227.37 L244.95,231.59 L245.20,237.38 L245.45,243.85 L245.70,251.44 L245.95,259.79 L246.20,267.95 L246.45,276.29 L246.70,284.88 L246.95,293.60 L247.20,302.89 L247.45,312.75 L247.70,317.35 L247.95,319.62 L248.20,320.92 L248.45,321.67 L248.70,322.13 L248.95,322.44 L249.20,322.65 L249.45,322.72 L249.70,322.75 L249.95,322.78 L250.20,322.79 L250.45,322.80 L250.70,322.80 L250.95,322.80 L251.20,322.80 L251.45,322.80 L251.70,322.80 L251.95,322.80 L252.20,322.80 L252.45,322.80 L252.70,322.79 L252.95,322.77 L253.20,322.74 L253.45,322.70 L253.70,322.65 L253.95,322.56 L254.20,322.34 L254.45,322.01 L254.70,321.63 L254.95,321.07 L255.20,320.25 L255.45,319.13 L255.70,317.31 L255.95,314.59 L256.20,309.98 L256.45,302.44 L256.70,288.06 L256.95,275.55 L257.20,264.15 L257.45,252.79 L257.70,241.70 L257.95,230.96 L258.20,220.50 L258.45,210.35 L258.70,200.05 L258.95,190.62 L259.20,183.06 L259.45,176.24 L259.70,170.40 L259.95,166.02 L260.20,162.84 L260.45,160.10 L260.70,158.13 L260.95,157.52 L261.20,159.68 L261.45,163.38 L261.70,168.13 L261.95,175.49 L262.20,184.76 L262.45,195.98 L262.70,209.75 L262.95,223.54 L263.20,237.88 L263.45,252.79 L263.70,268.15 L263.95,284.06 L264.20,303.04 L264.45,312.23 L264.70,316.75 L264.95,319.29 L265.20,320.67 L265.45,321.55 L265.70,322.08 L265.95,322.47 L266.20,322.64 L266.45,322.71 L266.70,322.75 L266.95,322.79 L267.20,322.80 L267.45,322.80 L267.70,322.78 L267.95,322.76 L268.20,322.72 L268.45,322.68 L268.70,322.62 L268.95,322.52 L269.20,322.26 L269.45,321.89 L269.70,321.43 L269.95,320.79 L270.20,319.84 L270.45,318.53 L270.70,316.41 L270.95,313.25 L271.20,307.88 L271.45,299.11 L271.70,282.38 L271.95,267.82 L272.20,254.55 L272.45,241.33 L272.70,228.43 L272.95,215.93 L273.20,203.77 L273.45,191.95 L273.70,179.96 L273.95,169.00 L274.20,160.20 L274.45,152.26 L274.70,145.46 L274.95,140.37 L275.20,136.67 L275.45,133.48 L275.70,131.18 L275.95,130.47 L276.20,132.99 L276.45,137.30 L276.70,142.82 L276.95,151.39 L277.20,162.17 L277.45,175.23 L277.70,191.25 L277.95,207.30 L278.20,223.99 L278.45,241.33 L278.70,259.21 L278.95,277.72 L279.20,299.80 L279.45,310.50 L279.70,315.76 L279.95,318.72 L280.20,320.33 L280.45,321.34 L280.70,321.96 L280.95,322.41 L281.20,322.62 L281.45,322.69 L281.70,322.75 L281.95,322.78 L282.20,322.80 L282.45,322.80 L282.70,322.80 L282.95,322.80 L283.20,322.80 L283.45,322.79 L283.70,322.78 L283.95,322.75 L284.20,322.72 L284.45,322.68 L284.70,322.62 L284.95,322.48 L285.20,322.21 L285.45,321.85 L285.70,321.41 L285.95,320.74 L286.20,319.79 L286.45,318.43 L286.70,316.22 L286.95,312.92 L287.20,307.06 L287.45,296.80 L287.70,282.00 L287.95,270.01 L288.20,258.43 L288.45,246.95 L288.70,235.81 L288.95,224.98 L289.20,214.47 L289.45,204.08 L289.70,193.77 L289.95,184.95 L290.20,177.64 L290.45,171.03 L290.70,165.62 L290.95,161.82 L291.20,158.73 L291.45,156.20 L291.70,154.61 L291.95,155.13 L292.20,158.07 L292.45,162.21 L292.70,167.99 L292.95,176.41 L293.20,186.33 L293.45,199.14 L293.70,213.26 L293.95,227.50 L294.20,242.31 L294.45,257.74 L294.70,273.44 L294.95,291.28 L295.20,307.06 L295.45,314.29 L295.70,317.87 L295.95,319.86 L296.20,321.05 L296.45,321.75 L296.70,322.24 L296.95,322.56 L297.20,322.67 L297.45,322.73 L297.70,322.77 L297.95,322.79 L298.20,322.80 L298.45,322.79 L298.70,322.78 L298.95,322.76 L299.20,322.73 L299.45,322.70 L299.70,322.64 L299.95,322.50 L300.20,322.28 L300.45,322.01 L300.70,321.64 L300.95,321.08 L301.20,320.33 L301.45,319.13 L301.70,317.29 L301.95,314.32 L302.20,309.34 L302.45,299.77 L302.70,290.17 L302.95,281.84 L303.20,273.57 L303.45,265.46 L303.70,257.61 L303.95,249.97 L304.20,242.58 L304.45,235.09 L304.70,228.03 L304.95,222.31 L305.20,217.26 L305.45,212.84 L305.70,209.42 L305.95,207.02 L306.20,204.94 L306.45,203.38 L306.70,202.58 L306.95,203.86 L307.20,206.37 L307.45,209.59 L307.70,214.56 L307.95,221.08 L308.20,228.81 L308.45,238.62 L308.70,248.65 L308.95,258.99 L309.20,269.73 L309.45,280.87 L309.70,292.22 L309.95,306.17 L310.20,314.08 L310.45,317.90 L310.70,319.97 L310.95,321.08 L311.20,321.79 L311.45,322.20 L311.70,322.51 L311.95,322.67 L312.20,322.72 L312.45,322.76 L312.70,322.79 L312.95,322.80 L313.20,322.80 L313.45,322.80 L313.70,322.79 L313.95,322.78 L314.20,322.75 L314.45,322.72 L314.70,322.68 L314.95,322.62 L315.20,322.46 L315.45,322.20 L315.70,321.86 L315.95,321.43 L316.20,320.76 L316.45,319.84 L316.70,318.46 L316.95,316.27 L317.20,312.89 L317.45,307.01 L317.70,296.17 L317.95,283.17 L318.20,272.36 L318.45,261.75 L318.70,251.29 L318.95,241.16 L319.20,231.30 L319.45,221.75 L319.70,212.19 L319.95,202.92 L320.20,195.23 L320.45,188.64 L320.70,182.77 L320.95,178.09 L321.20,174.84 L321.45,172.09 L321.70,169.92 L321.95,168.68 L322.20,169.72 L322.45,172.69 L322.70,176.62 L322.95,182.46 L323.20,190.52 L323.45,199.96 L323.70,212.19 L323.95,225.08 L324.20,238.23 L324.45,251.90 L324.70,266.12 L324.95,280.55 L325.20,297.86 L325.45,310.10 L325.70,315.79 L325.95,318.76 L326.20,320.36 L326.45,321.36 L326.70,321.94 L326.95,322.36 L327.20,322.62 L327.45,322.69 L327.70,322.74 L327.95,322.78 L328.20,322.80 L328.45,322.80 L328.70,322.80 L328.95,322.80 L329.20,322.79 L329.45,322.78 L329.70,322.76 L329.95,322.73 L330.20,322.69 L330.45,322.64 L330.70,322.50 L330.95,322.27 L331.20,321.97 L331.45,321.59 L331.70,321.00 L331.95,320.19 L332.20,318.97 L332.45,317.04 L332.70,314.06 L332.95,308.87 L333.20,299.31 L333.45,287.84 L333.70,278.30 L333.95,268.94 L334.20,259.72 L334.45,250.78 L334.70,242.08 L334.95,233.65 L335.20,225.22 L335.45,217.04 L335.70,210.26 L335.95,204.44 L336.20,199.27 L336.45,195.14 L336.70,192.27 L336.95,189.84 L337.20,187.93 L337.45,186.83 L337.70,187.75 L337.95,190.37 L338.20,193.83 L338.45,198.99 L338.70,206.10 L338.95,214.43 L339.20,225.22 L339.45,236.59 L339.70,248.19 L339.95,260.25 L340.20,272.80 L340.45,285.53 L340.70,300.79 L340.95,311.60 L341.20,316.62 L341.45,319.24 L341.70,320.65 L341.95,321.53 L342.20,322.04 L342.45,322.42 L342.70,322.64 L342.95,322.70 L343.20,322.75 L343.45,322.78 L343.70,322.80 L343.95,322.80 L344.20,322.80 L344.45,322.79 L344.70,322.78 L344.95,322.76 L345.20,322.74 L345.45,322.71 L345.70,322.66 L345.95,322.54 L346.20,322.34 L346.45,322.10 L346.70,321.78 L346.95,321.29 L347.20,320.62 L347.45,319.57 L347.70,317.95 L347.95,315.35 L348.20,310.98 L348.45,302.61 L348.70,294.21 L348.95,286.90 L349.20,279.66 L349.45,272.55 L349.70,265.66 L349.95,258.94 L350.20,252.43 L350.45,245.83 L350.70,239.58 L350.95,234.49 L351.20,229.96 L351.45,225.98 L351.70,222.86 L351.95,220.65 L352.20,218.78 L352.45,217.37 L352.70,216.65 L352.95,217.80 L353.20,220.07 L353.45,223.01 L353.70,227.53 L353.95,233.39 L354.20,240.27 L354.45,248.94 L354.70,257.78 L354.95,266.86 L355.20,276.29 L355.45,286.05 L355.70,296.00 L355.95,308.21 L356.20,315.14 L356.45,318.49 L356.70,320.31 L356.95,321.29 L357.20,321.91 L357.45,322.28 L357.70,322.55 L357.95,322.69 L358.20,322.73 L358.45,322.77 L358.70,322.79 L358.95,322.80 L359.20,322.80 L359.45,322.79 L359.70,322.79 L359.95,322.77 L360.20,322.75 L360.45,322.73 L360.70,322.69 L360.95,322.59 L361.20,322.42 L361.45,322.20 L361.70,321.91 L361.95,321.48 L362.20,320.90 L362.45,320.00 L362.70,318.64 L362.95,316.49 L363.20,312.94 L363.45,306.22 L363.70,299.43 L363.95,293.49 L364.20,287.55 L364.45,281.66 L364.70,275.89 L364.95,270.17 L365.20,264.50 L365.45,258.60 L365.70,252.78 L365.95,247.55 L366.20,242.67 L366.45,238.03 L366.70,233.93 L366.95,230.93 L367.20,228.74 L367.45,227.08 L367.70,226.27 L367.95,227.58 L368.20,230.23 L368.45,234.14 L368.70,239.92 L368.95,246.37 L369.20,253.44 L369.45,261.40 L369.70,269.17 L369.95,276.90 L370.20,284.77 L370.45,292.79 L370.70,300.89 L370.95,310.71 L371.20,316.32 L371.45,319.09 L371.70,320.64 L371.95,321.48 L372.20,322.03 L372.45,322.36 L372.70,322.60 L372.95,322.71 L373.20,322.75 L373.45,322.77 L373.70,322.79 L373.95,322.80 L374.20,322.80 L374.45,322.80 L374.70,322.80 L374.95,322.80 L375.20,322.80 L375.45,322.79 L375.70,322.77 L375.95,322.75 L376.20,322.73 L376.45,322.70 L376.70,322.62 L376.95,322.47 L377.20,322.25 L377.45,321.99 L377.70,321.60 L377.95,321.05 L378.20,320.27 L378.45,318.99 L378.70,317.12 L378.95,313.81 L379.20,308.31 L379.45,298.89 L379.70,291.24 L379.95,284.00 L380.20,276.79 L380.45,269.77 L380.70,262.95 L380.95,256.31 L381.20,249.80 L381.45,243.24 L381.70,237.39 L381.95,232.63 L382.20,228.29 L382.45,224.61 L382.70,221.92 L382.95,219.86 L383.20,218.15 L383.45,216.99 L383.70,216.94 L383.95,218.61 L384.20,221.17 L384.45,224.61 L384.70,229.76 L384.95,235.93 L385.20,243.61 L385.45,252.51 L385.70,261.37 L385.95,270.58 L386.20,280.16 L386.45,289.96 L386.70,300.46 L386.95,311.65 L387.20,316.82 L387.45,319.34 L387.70,320.76 L387.95,321.58 L388.20,322.07 L388.45,322.40 L388.70,322.62 L388.95,322.71 L389.20,322.75 L389.45,322.78 L389.70,322.79 L389.95,322.80 L390.20,322.80 L390.45,322.80 L390.70,322.80 L390.95,322.80 L391.20,322.80 L391.45,322.80 L391.70,322.79 L391.95,322.77 L392.20,322.75 L392.45,322.71 L392.70,322.66 L392.95,322.60 L393.20,322.42 L393.45,322.11 L393.70,321.73 L393.95,321.24 L394.20,320.48 L394.45,319.44 L394.70,317.86 L394.95,315.37 L395.20,311.53 L395.45,304.84 L395.70,292.51 L395.95,277.72 L396.20,265.43 L396.45,253.36 L396.70,241.47 L396.95,229.94 L397.20,218.73 L397.45,207.87 L397.70,196.99 L397.95,186.44 L398.20,177.71 L398.45,170.20 L398.70,163.53 L398.95,158.21 L399.20,154.51 L399.45,151.38 L399.70,148.91 L399.95,147.50 L400.20,148.68 L400.45,152.07 L400.70,156.53 L400.95,163.18 L401.20,172.35 L401.45,183.08 L401.70,196.99 L401.95,211.66 L402.20,226.61 L402.45,242.16 L402.70,258.33 L402.95,274.75 L403.20,294.43 L403.45,308.35 L403.70,314.83 L403.95,318.21 L404.20,320.03 L404.45,321.16 L404.70,321.82 L404.95,322.30 L405.20,322.59 L405.45,322.68 L405.70,322.73 L405.95,322.77 L406.20,322.78 L406.45,322.76 L406.70,322.73 L406.95,322.69 L407.20,322.65 L407.45,322.52 L407.70,322.28 L407.95,321.97 L408.20,321.59 L408.45,321.01 L408.70,320.18 L408.95,319.00 L409.20,317.07 L409.45,314.20 L409.70,309.11 L409.95,300.18 L410.20,287.31 L410.45,276.87 L410.70,266.80 L410.95,256.81 L411.20,247.12 L411.45,237.70 L411.70,228.56 L411.95,219.52 L412.20,210.55 L412.45,202.87 L412.70,196.51 L412.95,190.77 L413.20,186.06 L413.45,182.75 L413.70,180.06 L413.95,177.86 L414.20,176.48 L414.45,176.93 L414.70,179.49 L414.95,183.09 L415.20,188.12 L415.45,195.44 L415.70,204.08 L415.95,215.22 L416.20,227.50 L416.45,239.89 L416.70,252.78 L416.95,266.20 L417.20,279.85 L417.45,295.37 L417.70,309.11 L417.95,315.39 L418.20,318.51 L418.45,320.24 L418.70,321.28 L418.95,321.89 L419.20,322.32 L419.45,322.59 L419.70,322.69 L419.95,322.74 L420.20,322.77 L420.45,322.79 L420.70,322.80 L420.95,322.80 L421.20,322.79 L421.45,322.78 L421.70,322.76 L421.95,322.74 L422.20,322.70 L422.45,322.66 L422.70,322.53 L422.95,322.32 L423.20,322.05 L423.45,321.71 L423.70,321.19 L423.95,320.46 L424.20,319.37 L424.45,317.63 L424.70,314.96 L424.95,310.31 L425.20,301.74 L425.45,291.45 L425.70,282.90 L425.95,274.51 L426.20,266.24 L426.45,258.23 L426.70,250.43 L426.95,242.87 L427.20,235.31 L427.45,227.97 L427.70,221.90 L427.95,216.68 L428.20,212.04 L428.45,208.34 L428.70,205.77 L428.95,203.59 L429.20,201.87 L429.45,200.89 L429.70,201.71 L429.95,204.07 L430.20,207.17 L430.45,211.79 L430.70,218.17 L430.95,225.64 L431.20,235.31 L431.45,245.51 L431.70,255.91 L431.95,266.72 L432.20,277.97 L432.45,289.38 L432.70,303.07 L432.95,312.75 L433.20,317.26 L433.45,319.61 L433.70,320.87 L433.95,321.66 L434.20,322.12 L434.45,322.46 L434.70,322.65 L434.95,322.71 L435.20,322.75 L435.45,322.78 L435.70,322.80 L435.95,322.80 L436.20,322.80 L436.45,322.80 L436.70,322.80 L436.95,322.80 L437.20,322.79 L437.45,322.77 L437.70,322.75 L437.95,322.71 L438.20,322.67 L438.45,322.61 L438.70,322.44 L438.95,322.16 L439.20,321.80 L439.45,321.35 L439.70,320.64 L439.95,319.67 L440.20,318.20 L440.45,315.88 L440.70,312.31 L440.95,306.08 L441.20,294.60 L441.45,280.84 L441.70,269.39 L441.95,258.16 L442.20,247.08 L442.45,236.36 L442.70,225.91 L442.95,215.80 L443.20,205.68 L443.45,195.86 L443.70,187.72 L443.95,180.74 L444.20,174.53 L444.45,169.57 L444.70,166.13 L444.95,163.21 L445.20,160.92 L445.45,159.60 L445.70,160.71 L445.95,163.85 L446.20,168.01 L446.45,174.20 L446.70,182.73 L446.95,192.73 L447.20,205.68 L447.45,219.33 L447.70,233.25 L447.95,247.73 L448.20,262.78 L448.45,278.06 L448.70,296.39 L448.95,309.35 L449.20,315.38 L449.45,318.52 L449.70,320.22 L449.95,321.28 L450.20,321.89 L450.45,322.34 L450.70,322.61 L450.95,322.68 L451.20,322.74 L451.45,322.77 L451.70,322.80 L451.95,322.80 L452.20,322.80 L452.45,322.80 L452.70,322.80 L452.95,322.80 L453.20,322.80 L453.45,322.78 L453.70,322.76 L453.95,322.72 L454.20,322.67 L454.45,322.62 L454.70,322.49 L454.95,322.22 L455.20,321.84 L455.45,321.39 L455.70,320.71 L455.95,319.73 L456.20,318.37 L456.45,316.13 L456.70,312.85 L456.95,307.05 L457.20,297.37 L457.45,280.82 L457.70,267.37 L457.95,254.65 L458.20,241.99 L458.45,229.67 L458.70,217.72 L458.95,206.10 L459.20,194.73 L459.45,183.28 L459.70,173.13 L459.95,164.93 L460.20,157.48 L460.45,151.23 L460.70,146.72 L460.95,143.24 L461.20,140.31 L461.45,138.33 L461.70,138.25 L461.95,141.09 L462.20,145.45 L462.45,151.23 L462.70,160.00 L462.95,170.62 L463.20,183.93 L463.45,199.45 L463.70,214.95 L463.95,231.10 L464.20,247.91 L464.45,265.12 L464.70,283.56 L464.95,303.24 L465.20,312.33 L465.45,316.75 L465.70,319.24 L465.95,320.66 L466.20,321.53 L466.45,322.09 L466.70,322.49 L466.95,322.64 L467.20,322.71 L467.45,322.76 L467.70,322.79 L467.95,322.80 L468.20,322.80 L468.45,322.80 L468.70,322.80 L468.95,322.80 L469.20,322.80 L469.45,322.80 L469.70,322.80 L469.95,322.80" stroke="#5b9bd5" stroke-width="4.5"/>
<path d="M470.00,322.80 L470.25,322.80 L470.50,322.80 L470.75,322.78 L471.00,322.76 L471.25,322.71 L471.50,322.63 L471.75,322.37 L472.00,322.00 L472.25,321.35 L472.50,320.27 L472.75,318.14 L473.00,313.83 L473.25,303.63 L473.50,290.51 L473.75,279.16 L474.00,268.07 L474.25,257.47 L474.50,247.28 L474.75,237.27 L475.00,229.49 L475.25,223.07 L475.50,218.61 L475.75,215.61 L476.00,213.61 L476.25,214.26 L476.50,217.85 L476.75,223.74 L477.00,232.88 L477.25,245.46 L477.50,259.31 L477.75,273.88 L478.00,289.17 L478.25,307.12 L478.50,316.83 L478.75,320.18 L479.00,321.58 L479.25,322.25 L479.50,322.63 L479.75,322.73 L480.00,322.78 L480.25,322.80 L480.50,322.80 L480.75,322.80 L481.00,322.80 L481.25,322.80 L481.50,322.80 L481.75,322.80 L482.00,322.80 L482.25,322.80 L482.50,322.80 L482.75,322.78 L483.00,322.76 L483.25,322.73 L483.50,322.70 L483.75,322.67 L484.00,322.56 L484.25,322.39 L484.50,322.17 L484.75,321.91 L485.00,321.53 L485.25,321.00 L485.50,320.31 L485.75,319.24 L486.00,317.66 L486.25,315.34 L486.50,311.44 L486.75,305.00 L487.00,295.34 L487.25,287.54 L487.50,280.16 L487.75,272.79 L488.00,265.56 L488.25,258.55 L488.50,251.70 L488.75,245.05 L489.00,238.41 L489.25,231.83 L489.50,226.05 L489.75,221.30 L490.00,216.91 L490.25,213.11 L490.50,210.15 L490.75,208.01 L491.00,206.12 L491.25,204.60 L491.50,203.65 L491.75,203.96 L492.00,205.72 L492.25,208.25 L492.50,211.42 L492.75,216.19 L493.00,222.11 L493.25,228.97 L493.50,237.62 L493.75,246.60 L494.00,255.71 L494.25,265.15 L494.50,274.94 L494.75,284.93 L495.00,295.34 L495.25,307.93 L495.50,314.36 L495.75,317.77 L496.00,319.74 L496.25,320.86 L496.50,321.59 L496.75,322.04 L497.00,322.36 L497.25,322.59 L497.50,322.69 L497.75,322.73 L498.00,322.76 L498.25,322.78 L498.50,322.80 L498.75,322.80 L499.00,322.79 L499.25,322.77 L499.50,322.74 L499.75,322.71 L500.00,322.67 L500.25,322.55 L500.50,322.34 L500.75,322.07 L501.00,321.71 L501.25,321.17 L501.50,320.40 L501.75,319.19 L502.00,317.29 L502.25,314.15 L502.50,308.84 L502.75,298.40 L503.00,288.89 L503.25,280.33 L503.50,271.81 L503.75,263.51 L504.00,255.47 L504.25,247.66 L504.50,240.03 L504.75,232.36 L505.00,225.68 L505.25,220.25 L505.50,215.36 L505.75,211.38 L506.00,208.63 L506.25,206.37 L506.50,204.59 L506.75,203.56 L507.00,204.42 L507.25,206.87 L507.50,210.10 L507.75,215.10 L508.00,221.81 L508.25,229.83 L508.50,240.03 L508.75,250.39 L509.00,261.12 L509.25,272.30 L509.50,283.84 L509.75,295.88 L510.00,309.58 L510.25,315.90 L510.50,318.91 L510.75,320.55 L511.00,321.48 L511.25,322.03 L511.50,322.40 L511.75,322.63 L512.00,322.71 L512.25,322.75 L512.50,322.78 L512.75,322.78 L513.00,322.77 L513.25,322.73 L513.50,322.65 L513.75,322.55 L514.00,322.43 L514.25,322.29 L514.50,322.13 L514.75,321.91 L515.00,321.63 L515.25,321.27 L515.50,320.83 L515.75,320.24 L516.00,319.49 L516.25,318.32 L516.50,317.06 L516.75,315.88 L517.00,314.67 L517.25,313.38 L517.50,312.00 L517.75,310.53 L518.00,308.94 L518.25,307.19 L518.50,305.21 L518.75,302.96 L519.00,300.41 L519.25,297.30 L519.50,293.83 L519.75,290.25 L520.00,286.45 L520.25,282.17 L520.50,278.15 L520.75,275.09 L521.00,273.18 L521.25,271.58 L521.50,270.46 L521.75,270.15 L522.00,271.34 L522.25,273.50 L522.50,276.55 L522.75,281.67 L523.00,287.41 L523.25,292.35 L523.50,297.11 L523.75,301.21 L524.00,304.45 L524.25,307.19 L524.50,309.51 L524.75,311.58 L525.00,313.46 L525.25,315.17 L525.50,316.78 L525.75,318.47 L526.00,319.87 L526.25,320.73 L526.50,321.33 L526.75,321.79 L527.00,322.10 L527.25,322.32 L527.50,322.50 L527.75,322.64 L528.00,322.74 L528.25,322.78 L528.50,322.79 L528.75,322.79 L529.00,322.80 L529.25,322.80 L529.50,322.80 L529.75,322.80 L530.00,322.80 L530.25,322.80 L530.50,322.80 L530.75,322.80 L531.00,322.80 L531.25,322.80 L531.50,322.79 L531.75,322.77 L532.00,322.74 L532.25,322.70 L532.50,322.65 L532.75,322.51 L533.00,322.25 L533.25,321.92 L533.50,321.48 L533.75,320.78 L534.00,319.79 L534.25,318.13 L534.50,315.57 L534.75,310.86 L535.00,302.25 L535.25,289.75 L535.50,279.58 L535.75,269.66 L536.00,259.92 L536.25,250.50 L536.50,241.35 L536.75,232.49 L537.00,223.53 L537.25,215.54 L537.50,209.16 L537.75,203.45 L538.00,198.83 L538.25,195.67 L538.50,193.09 L538.75,191.12 L539.00,190.12 L539.25,191.72 L539.50,194.87 L539.75,199.06 L540.00,205.70 L540.25,213.96 L540.50,224.56 L540.75,236.64 L541.00,248.86 L541.25,261.61 L541.50,274.92 L541.75,288.50 L542.00,305.07 L542.25,313.95 L542.50,318.00 L542.75,320.13 L543.00,321.26 L543.25,321.92 L543.50,322.35 L543.75,322.62 L544.00,322.70 L544.25,322.75 L544.50,322.78 L544.75,322.78 L545.00,322.76 L545.25,322.73 L545.50,322.69 L545.75,322.64 L546.00,322.57 L546.25,322.38 L546.50,322.09 L546.75,321.72 L547.00,321.28 L547.25,320.62 L547.50,319.70 L547.75,318.44 L548.00,316.45 L548.25,313.62 L548.50,308.90 L548.75,301.58 L549.00,287.72 L549.25,274.55 L549.50,263.05 L549.75,251.66 L550.00,240.44 L550.25,229.53 L550.50,218.90 L550.75,208.55 L551.00,198.39 L551.25,188.13 L551.50,178.85 L551.75,171.34 L552.00,164.47 L552.25,158.46 L552.50,153.72 L552.75,150.35 L553.00,147.41 L553.25,145.04 L553.50,143.56 L553.75,144.23 L554.00,147.69 L554.25,152.50 L554.50,159.75 L554.75,169.88 L555.00,181.99 L555.25,197.59 L555.50,213.55 L555.75,230.08 L556.00,247.31 L556.25,265.08 L556.50,283.89 L556.75,304.12 L557.00,313.17 L557.25,317.42 L557.50,319.70 L557.75,321.02 L558.00,321.77 L558.25,322.30 L558.50,322.60 L558.75,322.68 L559.00,322.74 L559.25,322.78 L559.50,322.80 L559.75,322.80 L560.00,322.80 L560.25,321.84 L560.50,321.52 L560.75,321.12 L561.00,320.57 L561.25,319.85 L561.50,318.96 L561.75,317.71 L562.00,315.95 L562.25,313.64 L562.50,310.29 L562.75,305.23 L563.00,298.05 L563.25,285.91 L563.50,274.80 L563.75,265.13 L564.00,255.76 L564.25,246.36 L564.50,237.11 L564.75,228.06 L565.00,219.21 L565.25,210.52 L565.50,202.04 L565.75,193.67 L566.00,185.14 L566.25,176.98 L566.50,169.81 L566.75,163.75 L567.00,158.02 L567.25,152.80 L567.50,148.30 L567.75,144.71 L568.00,142.00 L568.25,139.51 L568.50,137.34 L568.75,135.65 L569.00,134.58 L569.25,135.14 L569.50,137.88 L569.75,141.82 L570.00,146.74 L570.25,154.14 L570.50,163.35 L570.75,173.96 L571.00,187.41 L571.25,201.48 L571.50,215.71 L571.75,230.45 L572.00,245.74 L572.25,261.38 L572.50,277.50 L572.75,297.36 L573.00,308.46 L573.25,314.31 L573.50,317.61 L573.75,319.51 L574.00,320.73 L574.25,321.50 L574.50,322.02 L574.75,322.41 L575.00,322.61 L575.25,322.68 L575.50,322.73 L575.75,322.77 L576.00,322.79 L576.25,322.80 L576.50,322.80 L576.75,322.80 L577.00,322.80 L577.25,322.80 L577.50,322.80 L577.75,322.80 L578.00,322.80 L578.25,322.80 L578.50,322.80 L578.75,322.79 L579.00,322.76 L579.25,322.71 L579.50,322.65 L579.75,322.43 L580.00,322.01 L580.25,321.42 L580.50,320.35 L580.75,318.49 L581.00,314.95 L581.25,307.29 L581.50,290.39 L581.75,275.58 L582.00,261.30 L582.25,247.54 L582.50,234.35 L582.75,221.48 L583.00,209.46 L583.25,200.31 L583.50,192.74 L583.75,187.80 L584.00,184.21 L584.25,182.09 L584.50,183.87 L584.75,188.75 L585.00,196.94 L585.25,208.86 L585.50,225.32 L585.75,242.82 L586.00,261.30 L586.25,280.63 L586.50,303.48 L586.75,315.24 L587.00,319.43 L587.25,321.21 L587.50,322.07 L587.75,322.56 L588.00,322.70 L588.25,322.77 L588.50,322.80 L588.75,322.80 L589.00,322.80 L589.25,322.80 L589.50,322.80 L589.75,322.80 L590.00,322.80 L590.25,322.80 L590.50,322.80 L590.75,322.80 L591.00,322.80 L591.25,322.80 L591.50,322.80 L591.75,322.80 L592.00,322.80 L592.25,322.80 L592.50,322.80 L592.75,322.80 L593.00,322.80 L593.25,322.80 L593.50,322.79 L593.75,322.77 L594.00,322.74 L594.25,322.70 L594.50,322.54 L594.75,322.24 L595.00,321.81 L595.25,321.06 L595.50,319.77 L595.75,317.35 L596.00,312.20 L596.25,300.68 L596.50,290.08 L596.75,279.97 L597.00,270.15 L597.25,260.67 L597.50,251.38 L597.75,242.32 L598.00,235.09 L598.25,228.85 L598.50,224.31 L598.75,221.27 L599.00,219.30 L599.25,219.94 L599.50,223.52 L599.75,229.52 L600.00,238.34 L600.25,249.71 L600.50,262.32 L600.75,275.29 L601.00,288.89 L601.25,303.80 L601.50,315.67 L601.75,319.66 L602.00,321.32 L602.25,322.11 L602.50,322.54 L602.75,322.71 L603.00,322.76 L603.25,322.79 L603.50,322.80 L603.75,322.80 L604.00,322.80 L604.25,322.80 L604.50,322.80 L604.75,322.80 L605.00,322.80 L605.25,322.80 L605.50,322.80 L605.75,322.80 L606.00,322.80 L606.25,322.80 L606.50,322.80 L606.75,322.80 L607.00,322.80 L607.25,322.80 L607.50,322.80 L607.75,322.79 L608.00,322.78 L608.25,322.76 L608.50,322.73 L608.75,322.70 L609.00,322.64 L609.25,322.47 L609.50,322.23 L609.75,321.93 L610.00,321.48 L610.25,320.82 L610.50,319.84 L610.75,318.21 L611.00,315.68 L611.25,311.07 L611.50,302.27 L611.75,292.06 L612.00,283.45 L612.25,274.93 L612.50,266.61 L612.75,258.56 L613.00,250.74 L613.25,243.13 L613.50,235.47 L613.75,228.77 L614.00,223.36 L614.25,218.51 L614.50,214.61 L614.75,211.95 L615.00,209.75 L615.25,208.07 L615.50,207.21 L615.75,208.58 L616.00,211.27 L616.25,214.81 L616.50,220.41 L616.75,227.46 L617.00,236.34 L617.25,246.72 L617.50,257.16 L617.75,268.06 L618.00,279.43 L618.25,291.02 L618.50,304.97 L618.75,314.05 L619.00,318.10 L619.25,320.19 L619.50,321.27 L619.75,321.93 L620.00,322.32 L620.25,322.60 L620.50,322.70 L620.75,322.75 L621.00,322.78 L621.25,322.80 L621.50,322.80 L621.75,322.80 L622.00,322.78 L622.25,322.76 L622.50,322.74 L622.75,322.72 L623.00,322.69 L623.25,322.60 L623.50,322.45 L623.75,322.26 L624.00,322.03 L624.25,321.71 L624.50,321.25 L624.75,320.65 L625.00,319.76 L625.25,318.41 L625.50,316.47 L625.75,313.19 L626.00,307.97 L626.25,299.37 L626.50,292.34 L626.75,285.79 L627.00,279.24 L627.25,272.82 L627.50,266.58 L627.75,260.48 L628.00,254.55 L628.25,248.68 L628.50,242.77 L628.75,237.46 L629.00,233.11 L629.25,229.12 L629.50,225.59 L629.75,222.76 L630.00,220.73 L630.25,218.99 L630.50,217.55 L630.75,216.58 L631.00,216.54 L631.25,217.93 L631.50,220.09 L631.75,222.76 L632.00,226.77 L632.25,231.90 L632.50,237.74 L632.75,245.17 L633.00,253.18 L633.25,261.19 L633.50,269.49 L633.75,278.10 L634.00,286.94 L634.25,295.95 L634.50,307.04 L634.75,314.09 L635.00,317.71 L635.25,319.69 L635.50,320.85 L635.75,321.57 L636.00,322.03 L636.25,322.33 L636.50,322.56 L636.75,322.69 L637.00,322.73 L637.25,322.76 L637.50,322.78 L637.75,322.80 L638.00,322.80 L638.25,322.79 L638.50,322.77 L638.75,322.74 L639.00,322.71 L639.25,322.66 L639.50,322.58 L639.75,322.38 L640.00,322.08 L640.25,321.71 L640.50,321.20 L640.75,320.43 L641.00,319.37 L641.25,317.64 L641.50,315.06 L641.75,310.65 L642.00,303.38 L642.25,289.65 L642.50,277.93 L642.75,267.15 L643.00,256.41 L643.25,245.94 L643.50,235.80 L643.75,225.93 L644.00,216.32 L644.25,206.60 L644.50,197.88 L644.75,190.87 L645.00,184.52 L645.25,179.17 L645.50,175.29 L645.75,172.34 L646.00,169.85 L646.25,168.16 L646.50,168.09 L646.75,170.51 L647.00,174.22 L647.25,179.17 L647.50,186.67 L647.75,195.70 L648.00,207.15 L648.25,220.29 L648.50,233.45 L648.75,247.16 L649.00,261.44 L649.25,276.01 L649.50,292.15 L649.75,307.63 L650.00,314.69 L650.25,318.12 L650.50,320.03 L650.75,321.16 L651.00,321.82 L651.25,322.28 L651.50,322.58 L651.75,322.68 L652.00,322.73 L652.25,322.77 L652.50,322.79 L652.75,322.80 L653.00,322.80 L653.25,322.80 L653.50,322.80 L653.75,322.80 L654.00,322.80 L654.25,322.80 L654.50,322.80 L654.75,322.80 L655.00,322.78 L655.25,322.76 L655.50,322.73 L655.75,322.68 L656.00,322.59 L656.25,322.36 L656.50,322.03 L656.75,321.60 L657.00,320.88 L657.25,319.83 L657.50,317.98 L657.75,314.95 L658.00,309.14 L658.25,297.28 L658.50,285.40 L658.75,274.80 L659.00,264.30 L659.25,254.16 L659.50,244.35 L659.75,234.88 L660.00,225.34 L660.25,217.12 L660.50,210.49 L660.75,204.74 L661.00,200.49 L661.25,197.56 L661.50,195.17 L661.75,193.79 L662.00,194.95 L662.25,198.21 L662.50,202.77 L662.75,210.12 L663.00,219.29 L663.25,231.48 L663.50,244.35 L663.75,257.69 L664.00,271.68 L664.25,286.04 L664.50,303.17 L664.75,313.86 L665.00,318.25 L665.25,320.38 L665.50,321.49 L665.75,322.10 L666.00,322.50 L666.25,322.68 L666.50,322.74 L666.75,322.78 L667.00,322.80 L667.25,322.80 L667.50,322.80 L667.75,322.80 L668.00,322.80 L668.25,322.79 L668.50,322.76 L668.75,322.73 L669.00,322.69 L669.25,322.64 L669.50,322.56 L669.75,322.36 L670.00,322.03 L670.25,321.62 L670.50,321.11 L670.75,320.33 L671.00,319.26 L671.25,317.71 L671.50,315.25 L671.75,311.66 L672.00,305.38 L672.25,294.88 L672.50,278.30 L672.75,264.91 L673.00,252.18 L673.25,239.50 L673.50,227.14 L673.75,215.14 L674.00,203.45 L674.25,192.09 L674.50,180.55 L674.75,169.88 L675.00,161.25 L675.25,153.50 L675.50,146.72 L675.75,141.41 L676.00,137.66 L676.25,134.41 L676.50,131.87 L676.75,130.40 L677.00,131.63 L677.25,135.12 L677.50,139.76 L677.75,146.36 L678.00,155.70 L678.25,166.60 L678.50,180.55 L678.75,196.10 L679.00,211.66 L679.25,227.85 L679.50,244.69 L679.75,261.91 L680.00,280.03 L680.25,300.85 L680.50,310.78 L680.75,315.76 L681.00,318.64 L681.25,320.22 L681.50,321.25 L681.75,321.87 L682.00,322.34 L682.25,322.60 L682.50,322.67 L682.75,322.73 L683.00,322.77 L683.25,322.80 L683.50,322.80 L683.75,322.80 L684.00,322.80 L684.25,322.80 L684.50,322.79 L684.75,322.76 L685.00,322.73 L685.25,322.69 L685.50,322.63 L685.75,322.44 L686.00,322.13 L686.25,321.76 L686.50,321.16 L686.75,320.28 L687.00,318.88 L687.25,316.55 L687.50,312.48 L687.75,305.07 L688.00,291.50 L688.25,280.43 L688.50,269.80 L688.75,259.34 L689.00,249.24 L689.25,239.46 L689.50,229.96 L689.75,220.43 L690.00,212.31 L690.25,205.67 L690.50,199.87 L690.75,195.52 L691.00,192.52 L691.25,190.03 L691.50,188.44 L691.75,188.96 L692.00,191.87 L692.25,195.93 L692.50,202.46 L692.75,211.10 L693.00,222.06 L693.25,234.99 L693.50,248.07 L693.75,261.77 L694.00,276.07 L694.25,290.81 L694.50,307.81 L694.75,315.45 L695.00,318.88 L695.25,320.63 L695.50,321.61 L695.75,322.15 L696.00,322.53 L696.25,322.68 L696.50,322.74 L696.75,322.78 L697.00,322.80 L697.25,322.80 L697.50,322.80 L697.75,322.80 L698.00,322.80 L698.25,322.80 L698.50,322.80 L698.75,322.80 L699.00,322.80 L699.25,322.79 L699.50,322.79 L699.75,322.78 L700.00,322.78 L700.25,322.74 L700.50,322.66 L700.75,322.52 L701.00,322.35 L701.25,322.14 L701.50,321.85 L701.75,321.44 L702.00,320.88 L702.25,320.10 L702.50,318.97 L702.75,317.03 L703.00,314.98 L703.25,313.05 L703.50,311.02 L703.75,308.85 L704.00,306.54 L704.25,304.02 L704.50,301.16 L704.75,297.87 L705.00,293.98 L705.25,289.40 L705.50,284.62 L705.75,279.36 L706.00,273.87 L706.25,269.64 L706.50,267.15 L706.75,265.25 L707.00,264.38 L707.25,265.83 L707.50,268.83 L707.75,274.17 L708.00,281.64 L708.25,288.27 L708.50,294.49 L708.75,299.47 L709.00,303.54 L709.25,306.96 L709.50,310.02 L709.75,312.82 L710.00,315.44 L710.25,318.30 L710.50,320.04 L710.75,321.06 L711.00,321.73 L711.25,322.14 L711.50,322.42 L711.75,322.62 L712.00,322.75 L712.25,322.78 L712.50,322.79 L712.75,322.79 L713.00,322.80 L713.25,322.80 L713.50,322.80 L713.75,322.80 L714.00,322.80 L714.25,322.80 L714.50,322.80 L714.75,322.80 L715.00,322.80 L715.25,322.80 L715.50,322.80 L715.75,322.80 L716.00,322.79 L716.25,322.77 L716.50,322.74 L716.75,322.69 L717.00,322.63 L717.25,322.52 L717.50,322.23 L717.75,321.78 L718.00,321.23 L718.25,320.34 L718.50,319.05 L718.75,316.98 L719.00,313.58 L719.25,307.64 L719.50,296.93 L719.75,277.40 L720.00,261.48 L720.25,246.22 L720.50,231.18 L720.75,216.65 L721.00,202.57 L721.25,188.94 L721.50,175.18 L721.75,163.18 L722.00,153.54 L722.25,145.01 L722.50,138.40 L722.75,133.92 L723.00,130.18 L723.25,127.62 L723.50,127.51 L723.75,131.19 L724.00,136.68 L724.25,145.01 L724.50,156.86 L724.75,171.36 L725.00,189.75 L725.25,208.31 L725.50,227.71 L725.75,248.02 L726.00,268.76 L726.25,293.77 L726.50,309.00 L726.75,315.55 L727.00,318.86 L727.25,320.59 L727.50,321.57 L727.75,322.21 L728.00,322.57 L728.25,322.67 L728.50,322.74 L728.75,322.78 L729.00,322.80 L729.25,322.80 L729.50,322.80 L729.75,322.80 L730.00,322.80 L730.25,322.80 L730.50,322.80 L730.75,322.79 L731.00,322.77 L731.25,322.75 L731.50,322.72 L731.75,322.68 L732.00,322.59 L732.25,322.41 L732.50,322.16 L732.75,321.86 L733.00,321.42 L733.25,320.77 L733.50,319.87 L733.75,318.39 L734.00,316.21 L734.25,312.37 L734.50,305.96 L734.75,295.00 L735.00,286.10 L735.25,277.67 L735.50,269.29 L735.75,261.13 L736.00,253.22 L736.25,245.52 L736.50,238.00 L736.75,230.41 L737.00,223.69 L737.25,218.26 L737.50,213.33 L737.75,209.19 L738.00,206.20 L738.25,203.90 L738.50,201.96 L738.75,200.65 L739.00,200.59 L739.25,202.48 L739.50,205.36 L739.75,209.19 L740.00,215.00 L740.25,222.03 L740.50,230.84 L740.75,241.12 L741.00,251.38 L741.25,262.08 L741.50,273.21 L741.75,284.60 L742.00,296.82 L742.25,309.85 L742.50,315.87 L742.75,318.79 L743.00,320.44 L743.25,321.38 L743.50,321.96 L743.75,322.33 L744.00,322.59 L744.25,322.69 L744.50,322.74 L744.75,322.77 L745.00,322.79 L745.25,322.80 L745.50,322.80 L745.75,322.80 L746.00,322.80 L746.25,322.80 L746.50,322.80 L746.75,322.79 L747.00,322.78 L747.25,322.77 L747.50,322.75 L747.75,322.72 L748.00,322.62 L748.25,322.45 L748.50,322.22 L748.75,321.88 L749.00,321.41 L749.25,320.71 L749.50,319.57 L749.75,317.81 L750.00,314.72 L750.25,308.80 L750.50,302.44 L750.75,296.84 L751.00,291.19 L751.25,285.58 L751.50,279.99 L751.75,274.37 L752.00,268.51 L752.25,262.42 L752.50,256.55 L752.75,250.98 L753.00,245.46 L753.25,240.54 L753.50,237.16 L753.75,234.78 L754.00,233.27 L754.25,233.75 L754.50,236.55 L754.75,241.05 L755.00,248.07 L755.25,255.55 L755.50,263.50 L755.75,271.67 L756.00,279.34 L756.25,286.89 L756.50,294.51 L756.75,302.11 L757.00,310.96 L757.25,316.89 L757.50,319.57 L757.75,321.00 L758.00,321.76 L758.25,322.23 L758.50,322.53 L758.75,322.70 L759.00,322.75 L759.25,322.77 L759.50,322.79 L759.75,322.80 L760.00,322.80 L760.25,322.80 L760.50,322.80 L760.75,322.80 L761.00,322.80 L761.25,322.80 L761.50,322.80 L761.75,322.80 L762.00,322.80 L762.25,322.80 L762.50,322.80 L762.75,322.80 L763.00,322.80 L763.25,322.80 L763.50,322.80 L763.75,322.79 L764.00,322.78 L764.25,322.77 L764.50,322.74 L764.75,322.67 L765.00,322.49 L765.25,322.21 L765.50,321.78 L765.75,321.13 L766.00,319.99 L766.25,318.06 L766.50,314.35 L766.75,306.98 L767.00,300.65 L767.25,294.39 L767.50,288.10 L767.75,281.77 L768.00,275.23 L768.25,268.16 L768.50,261.02 L768.75,254.17 L769.00,247.26 L769.25,242.02 L769.50,238.89 L769.75,237.07 L770.00,238.59 L770.25,243.02 L770.50,251.28 L770.75,260.61 L771.00,270.27 L771.25,279.50 L771.50,288.10 L771.75,296.61 L772.00,305.05 L772.25,314.64 L772.50,319.01 L772.75,320.92 L773.00,321.84 L773.25,322.35 L773.50,322.65 L773.75,322.75 L774.00,322.78 L774.25,322.79 L774.50,322.80 L774.75,322.80 L775.00,322.80 L775.25,322.80 L775.50,322.80 L775.75,322.80 L776.00,322.80 L776.25,322.80 L776.50,322.80 L776.75,322.80 L777.00,322.80 L777.25,322.80 L777.50,322.80 L777.75,322.80 L778.00,322.80 L778.25,322.78 L778.50,322.75 L778.75,322.72 L779.00,322.67 L779.25,322.58 L779.50,322.35 L779.75,322.00 L780.00,321.57 L780.25,320.86 L780.50,319.84 L780.75,318.14 L781.00,315.40 L781.25,310.35 L781.50,300.88 L781.75,286.37 L782.00,274.60 L782.25,263.09 L782.50,251.83 L782.75,240.96 L783.00,230.44 L783.25,220.13 L783.50,209.95 L783.75,201.62 L784.00,194.56 L784.25,188.54 L784.50,184.21 L784.75,181.07 L785.00,178.53 L785.25,177.06 L785.50,178.29 L785.75,181.77 L786.00,186.51 L786.25,194.17 L786.50,203.81 L786.75,216.44 L787.00,230.44 L787.25,244.77 L787.50,259.74 L787.75,275.27 L788.00,291.80 L788.25,308.68 L788.50,315.78 L788.75,319.06 L789.00,320.70 L789.25,321.66 L789.50,322.20 L789.75,322.56 L790.00,322.68 L790.25,322.74 L790.50,322.78 L790.75,322.80 L791.00,322.80 L791.25,322.80 L791.50,322.80 L791.75,322.80 L792.00,322.80 L792.25,322.80 L792.50,322.80 L792.75,322.80 L793.00,322.79 L793.25,322.79 L793.50,322.78 L793.75,322.76 L794.00,322.73 L794.25,322.63 L794.50,322.46 L794.75,322.23 L795.00,321.92 L795.25,321.49 L795.50,320.82 L795.75,319.85 L796.00,318.26 L796.25,315.57 L796.50,311.50 L796.75,308.01 L797.00,304.50 L797.25,300.87 L797.50,297.12 L797.75,293.20 L798.00,288.93 L798.25,284.17 L798.50,278.78 L798.75,273.15 L799.00,267.40 L799.25,261.25 L799.50,256.39 L799.75,253.50 L800.00,251.40 L800.25,250.80 L800.50,253.06 L800.75,257.09 L801.00,264.46 L801.25,272.49 L801.50,280.08 L801.75,287.02 L802.00,292.96 L802.25,298.24 L802.50,303.23 L802.75,308.01 L803.00,312.83 L803.25,317.64 L803.50,319.92 L803.75,321.13 L804.00,321.83 L804.25,322.26 L804.50,322.54 L804.75,322.72 L805.00,322.77 L805.25,322.78 L805.50,322.79 L805.75,322.80 L806.00,322.80 L806.25,322.80 L806.50,322.80 L806.75,322.80 L807.00,322.80 L807.25,322.80 L807.50,322.80 L807.75,322.80 L808.00,322.80 L808.25,322.80 L808.50,322.79 L808.75,322.79 L809.00,322.78 L809.25,322.77 L809.50,322.69 L809.75,322.54 L810.00,322.35 L810.25,322.09 L810.50,321.72 L810.75,321.16 L811.00,320.36 L811.25,319.14 L811.50,316.99 L811.75,314.93 L812.00,312.83 L812.25,310.52 L812.50,308.00 L812.75,305.16 L813.00,301.78 L813.25,297.72 L813.50,292.57 L813.75,287.01 L814.00,280.72 L814.25,274.58 L814.50,270.83 L814.75,268.38 L815.00,267.23 L815.25,269.14 L815.50,273.16 L815.75,281.12 L816.00,289.29 L816.25,296.59 L816.50,302.21 L816.75,306.55 L817.00,310.09 L817.25,313.21 L817.50,316.02 L817.75,318.94 L818.00,320.58 L818.25,321.51 L818.50,322.07 L818.75,322.41 L819.00,322.64 L819.25,322.77 L819.50,322.79 L819.75,322.79 L820.00,322.80 L820.25,322.80 L820.50,322.80 L820.75,322.80 L821.00,322.80 L821.25,322.80 L821.50,322.80 L821.75,322.80 L822.00,322.80 L822.25,322.80 L822.50,322.80 L822.75,322.80 L823.00,322.80 L823.25,322.80 L823.50,322.80 L823.75,322.80 L824.00,322.79 L824.25,322.78 L824.50,322.76 L824.75,322.74 L825.00,322.70 L825.25,322.58 L825.50,322.39 L825.75,322.14 L826.00,321.78 L826.25,321.27 L826.50,320.51 L826.75,319.28 L827.00,317.37 L827.25,314.07 L827.50,307.68 L827.75,301.35 L828.00,295.66 L828.25,289.94 L828.50,284.25 L828.75,278.62 L829.00,272.96 L829.25,267.11 L829.50,261.04 L829.75,255.23 L830.00,249.76 L830.25,244.42 L830.50,239.56 L830.75,236.09 L831.00,233.69 L831.25,232.04 L831.50,231.97 L831.75,234.34 L832.00,238.17 L832.25,244.42 L832.50,251.66 L832.75,259.26 L833.00,267.46 L833.25,275.29 L833.50,282.92 L833.75,290.61 L834.00,298.33 L834.25,306.40 L834.50,314.76 L834.75,318.53 L835.00,320.39 L835.25,321.41 L835.50,322.01 L835.75,322.38 L836.00,322.62 L836.25,322.73 L836.50,322.76 L836.75,322.78 L837.00,322.79 L837.25,322.80 L837.50,322.80 L837.75,322.80 L838.00,322.80 L838.25,322.80 L838.50,322.80 L838.75,322.80 L839.00,322.80 L839.25,322.80 L839.50,322.80 L839.75,322.78 L840.00,322.75 L840.25,322.72 L840.50,322.67 L840.75,322.58 L841.00,322.34 L841.25,321.98 L841.50,321.53 L841.75,320.81 L842.00,319.76 L842.25,318.02 L842.50,315.21 L842.75,310.03 L843.00,300.32 L843.25,285.44 L843.50,273.36 L843.75,261.56 L844.00,250.01 L844.25,238.87 L844.50,228.08 L844.75,217.49 L845.00,207.06 L845.25,198.51 L845.50,191.27 L845.75,185.10 L846.00,180.66 L846.25,177.43 L846.50,174.83 L846.75,173.32 L847.00,174.58 L847.25,178.15 L847.50,183.02 L847.75,190.87 L848.00,200.76 L848.25,213.71 L848.50,228.08 L848.75,242.76 L849.00,258.13 L849.25,274.06 L849.50,291.00 L849.75,308.32 L850.00,315.60 L850.25,318.96 L850.50,320.65 L850.75,321.63 L851.00,322.18 L851.25,322.56 L851.50,322.68 L851.75,322.74 L852.00,322.78 L852.25,322.80 L852.50,322.80 L852.75,322.80 L853.00,322.80 L853.25,322.80 L853.50,322.80 L853.75,322.80 L854.00,322.80 L854.25,322.79 L854.50,322.78 L854.75,322.77 L855.00,322.76 L855.25,322.74 L855.50,322.68 L855.75,322.56 L856.00,322.38 L856.25,322.15 L856.50,321.83 L856.75,321.40 L857.00,320.77 L857.25,319.82 L857.50,318.42 L857.75,316.11 L858.00,312.04 L858.25,306.96 L858.50,302.64 L858.75,298.33 L859.00,293.97 L859.25,289.59 L859.50,285.17 L859.75,280.61 L860.00,275.75 L860.25,270.60 L860.50,265.35 L860.75,260.19 L861.00,255.02 L861.25,249.82 L861.50,245.70 L861.75,243.04 L862.00,241.00 L862.25,239.88 L862.50,240.82 L862.75,243.60 L863.00,247.95 L863.25,254.70 L863.50,261.69 L863.75,268.73 L864.00,275.75 L864.25,282.24 L864.50,288.30 L864.75,294.23 L865.00,300.12 L865.25,305.92 L865.50,312.68 L865.75,317.32 L866.00,319.61 L866.25,320.91 L866.50,321.65 L866.75,322.12 L867.00,322.43 L867.25,322.64 L867.50,322.74 L867.75,322.76 L868.00,322.78 L868.25,322.79 L868.50,322.80 L868.75,322.80 L869.00,322.80 L869.25,322.80 L869.50,322.78 L869.75,322.73 L870.00,322.65 L870.25,322.55 L870.50,322.43 L870.75,322.29 L871.00,322.10 L871.25,321.86 L871.50,321.58 L871.75,321.26 L872.00,320.86 L872.25,320.36 L872.50,319.79 L872.75,319.15 L873.00,318.41 L873.25,317.52 L873.50,316.48 L873.75,315.22 L874.00,313.63 L874.25,311.69 L874.50,309.17 L874.75,305.92 L875.00,302.44 L875.25,298.53 L875.50,294.19 L875.75,290.56 L876.00,288.46 L876.25,286.86 L876.50,285.88 L876.75,286.18 L877.00,288.05 L877.25,290.91 L877.50,296.21 L877.75,301.83 L878.00,306.52 L878.25,310.62 L878.50,313.42 L878.75,315.54 L879.00,317.11 L879.25,318.36 L879.50,319.35 L879.75,320.16 L880.00,320.86 L880.25,321.38 L880.50,321.78 L880.75,322.11 L881.00,322.36 L881.25,322.52 L881.50,322.66 L881.75,322.76 L882.00,322.80 L882.25,322.80 L882.50,322.80 L882.75,322.80 L883.00,322.80 L883.25,322.80 L883.50,322.80 L883.75,322.80 L884.00,322.80 L884.25,322.80 L884.50,322.80 L884.75,322.80 L885.00,322.77 L885.25,322.70 L885.50,322.61 L885.75,322.50 L886.00,322.38 L886.25,322.21 L886.50,321.99 L886.75,321.73 L887.00,321.44 L887.25,321.09 L887.50,320.65 L887.75,320.14 L888.00,319.55 L888.25,318.86 L888.50,318.02 L888.75,317.02 L889.00,315.81 L889.25,314.27 L889.50,312.37 L889.75,309.87 L890.00,306.62 L890.25,303.12 L890.50,299.14 L890.75,294.77 L891.00,291.24 L891.25,289.24 L891.50,287.69 L891.75,286.87 L892.00,287.55 L892.25,289.66 L892.50,293.14 L892.75,298.88 L893.00,304.14 L893.25,308.79 L893.50,312.37 L893.75,314.86 L894.00,316.70 L894.25,318.08 L894.50,319.16 L894.75,320.00 L895.00,320.71 L895.25,321.26 L895.50,321.68 L895.75,322.03 L896.00,322.31 L896.25,322.49 L896.50,322.63 L896.75,322.74 L897.00,322.80 L897.25,322.80 L897.50,322.80 L897.75,322.80 L898.00,322.80 L898.25,322.80 L898.50,322.80 L898.75,322.80 L899.00,322.80 L899.25,322.80 L899.50,322.80 L899.75,322.80 L900.00,322.80 L900.25,322.80 L900.50,322.80 L900.75,322.80 L901.00,322.80 L901.25,322.80 L901.50,322.80 L901.75,322.80 L902.00,322.80 L902.25,322.80 L902.50,322.79 L902.75,322.78 L903.00,322.77 L903.25,322.75 L903.50,322.67 L903.75,322.49 L904.00,322.23 L904.25,321.86 L904.50,321.32 L904.75,320.41 L905.00,318.96 L905.25,316.39 L905.50,311.90 L905.75,308.00 L906.00,304.03 L906.25,299.90 L906.50,295.59 L906.75,290.89 L907.00,285.55 L907.25,279.38 L907.50,272.89 L907.75,265.99 L908.00,259.36 L908.25,255.31 L908.50,252.67 L908.75,251.90 L909.00,254.77 L909.25,260.38 L909.50,269.79 L909.75,278.63 L910.00,286.85 L910.25,293.71 L910.50,299.66 L910.75,305.22 L911.00,310.50 L911.25,316.39 L911.50,319.58 L911.75,321.09 L912.00,321.89 L912.25,322.35 L912.50,322.63 L912.75,322.76 L913.00,322.78 L913.25,322.79 L913.50,322.80 L913.75,322.80 L914.00,322.80 L914.25,322.80 L914.50,322.80 L914.75,322.80 L915.00,322.80 L915.25,322.80 L915.50,322.80 L915.75,322.80 L916.00,322.80 L916.25,322.80 L916.50,322.49 L916.75,322.29 L917.00,322.02 L917.25,321.69 L917.50,321.32 L917.75,320.81 L918.00,320.11 L918.25,319.21 L918.50,318.03 L918.75,316.27 L919.00,313.88 L919.25,310.48 L919.50,305.15 L919.75,297.42 L920.00,284.18 L920.25,272.34 L920.50,261.90 L920.75,251.70 L921.00,241.51 L921.25,231.51 L921.50,221.76 L921.75,212.20 L922.00,202.86 L922.25,193.77 L922.50,184.51 L922.75,175.44 L923.00,167.32 L923.25,160.59 L923.50,154.31 L923.75,148.60 L924.00,143.70 L924.25,139.87 L924.50,136.97 L924.75,134.31 L925.00,132.07 L925.25,130.42 L925.50,129.56 L925.75,131.79 L926.00,136.18 L926.25,141.91 L926.50,150.96 L926.75,162.44 L927.00,176.70 L927.25,193.77 L927.50,210.86 L927.75,228.69 L928.00,247.31 L928.25,266.30 L928.50,288.17 L928.75,306.03 L929.00,313.88 L929.25,317.81 L929.50,319.87 L929.75,321.12 L930.00,321.84 L930.25,322.36 L930.50,322.61 L930.75,322.69 L931.00,322.75 L931.25,322.75 L931.50,322.72 L931.75,322.68 L932.00,322.61 L932.25,322.44 L932.50,322.21 L932.75,321.93 L933.00,321.54 L933.25,320.97 L933.50,320.20 L933.75,318.99 L934.00,317.17 L934.25,314.31 L934.50,309.53 L934.75,300.65 L935.00,290.82 L935.25,282.54 L935.50,274.40 L935.75,266.36 L936.00,258.56 L936.25,250.96 L936.50,243.59 L936.75,236.29 L937.00,229.02 L937.25,222.69 L937.50,217.50 L937.75,212.75 L938.00,208.76 L938.25,205.83 L938.50,203.58 L938.75,201.66 L939.00,200.28 L939.25,199.85 L939.50,201.37 L939.75,203.96 L940.00,207.23 L940.25,212.24 L940.50,218.69 L940.75,226.25 L941.00,235.86 L941.25,245.73 L941.50,255.86 L941.75,266.36 L942.00,277.27 L942.25,288.33 L942.50,301.31 L942.75,311.72 L943.00,316.65 L943.25,319.17 L943.50,320.59 L943.75,321.46 L944.00,321.98 L944.25,322.34 L944.50,322.59 L944.75,322.69 L945.00,322.74 L945.25,322.77 L945.50,322.79 L945.75,322.80 L946.00,322.79 L946.25,322.74 L946.50,322.65 L946.75,322.54 L947.00,322.42 L947.25,322.25 L947.50,322.03 L947.75,321.75 L948.00,321.44 L948.25,321.07 L948.50,320.60 L948.75,320.03 L949.00,319.39 L949.25,318.61 L949.50,317.65 L949.75,316.51 L950.00,315.05 L950.25,313.19 L950.50,310.83 L950.75,307.56 L951.00,303.83 L951.25,299.74 L951.50,295.06 L951.75,291.24 L952.00,289.12 L952.25,287.54 L952.50,286.82 L952.75,288.02 L953.00,290.50 L953.25,295.33 L953.50,301.56 L953.75,306.70 L954.00,311.16 L954.25,314.12 L954.50,316.28 L954.75,317.83 L955.00,319.04 L955.25,319.96 L955.50,320.72 L955.75,321.30 L956.00,321.74 L956.25,322.10 L956.50,322.37 L956.75,322.54 L957.00,322.68 L957.25,322.78 L957.50,322.80 L957.75,322.80 L958.00,322.80 L958.25,322.80 L958.50,322.80 L958.75,322.80 L959.00,322.80 L959.25,322.80 L959.50,322.80 L959.75,322.80 L960.00,322.80 L960.25,322.80 L960.50,322.80 L960.75,322.80 L961.00,322.80 L961.25,322.80 L961.50,322.80 L961.75,322.80 L962.00,322.80 L962.25,322.80 L962.50,322.79 L962.75,322.77 L963.00,322.74 L963.25,322.71 L963.50,322.64 L963.75,322.47 L964.00,322.22 L964.25,321.89 L964.50,321.37 L964.75,320.62 L965.00,319.36 L965.25,317.36 L965.50,313.64 L965.75,306.46 L966.00,297.35 L966.25,289.71 L966.50,282.14 L966.75,274.72 L967.00,267.50 L967.25,260.43 L967.50,253.32 L967.75,246.31 L968.00,240.38 L968.25,235.04 L968.50,230.28 L968.75,226.71 L969.00,224.15 L969.25,222.23 L969.50,221.28 L969.75,222.82 L970.00,225.88 L970.25,230.53 L970.50,237.17 L970.75,244.79 L971.00,254.17 L971.25,263.74 L971.50,273.44 L971.75,283.47 L972.00,293.71 L972.25,305.25 L972.50,314.70 L972.75,318.64 L973.00,320.57 L973.25,321.54 L973.50,322.12 L973.75,322.47 L974.00,322.68 L974.25,322.73 L974.50,322.77 L974.75,322.79 L975.00,322.80 L975.25,322.80 L975.50,322.80 L975.75,322.80 L976.00,322.80 L976.25,322.79 L976.50,322.78 L976.75,322.76 L977.00,322.73 L977.25,322.70 L977.50,322.64 L977.75,322.50 L978.00,322.28 L978.25,322.00 L978.50,321.63 L978.75,321.07 L979.00,320.31 L979.25,319.10 L979.50,317.24 L979.75,314.26 L980.00,309.24 L980.25,299.60 L980.50,289.93 L980.75,281.53 L981.00,273.20 L981.25,265.04 L981.50,257.13 L981.75,249.43 L982.00,241.98 L982.25,234.44 L982.50,227.33 L982.75,221.57 L983.00,216.48 L983.25,212.03 L983.50,208.58 L983.75,206.16 L984.00,204.07 L984.25,202.49 L984.50,201.69 L984.75,202.98 L985.00,205.51 L985.25,208.75 L985.50,213.76 L985.75,220.33 L986.00,228.11 L986.25,238.00 L986.50,248.10 L986.75,258.51 L987.00,269.33 L987.25,280.56 L987.50,291.99 L987.75,306.04 L988.00,314.02 L988.25,317.86 L988.50,319.95 L988.75,321.07 L989.00,321.78 L989.25,322.20 L989.50,322.51 L989.75,322.67 L990.00,322.72 L990.25,322.76 L990.50,322.79 L990.75,322.80 L991.00,322.80 L991.25,322.80 L991.50,322.80 L991.75,322.80 L992.00,322.80 L992.25,322.80 L992.50,322.80 L992.75,322.79 L993.00,322.79 L993.25,322.79 L993.50,322.76 L993.75,322.68 L994.00,322.56 L994.25,322.42 L994.50,322.25 L994.75,322.01 L995.00,321.68 L995.25,321.26 L995.50,320.70 L995.75,319.95 L996.00,318.74 L996.25,317.54 L996.50,316.30 L996.75,314.95 L997.00,313.45 L997.25,311.77 L997.50,309.84 L997.75,307.54 L998.00,304.80 L998.25,301.33 L998.50,297.14 L998.75,292.79 L999.00,287.73 L999.25,282.66 L999.50,279.05 L999.75,276.87 L1000.00,275.25 L1000.25,274.80 L1000.50,276.53 L1000.75,279.51 L1001.00,285.25 L1001.25,292.25 L1001.50,298.16 L1001.75,303.50 L1002.00,307.39 L1002.25,310.45 L1002.50,312.87 L1002.75,314.95 L1003.00,316.75 L1003.25,318.38 L1003.50,320.00 L1003.75,320.95 L1004.00,321.59 L1004.25,322.05 L1004.50,322.33 L1004.75,322.54 L1005.00,322.70 L1005.25,322.78 L1005.50,322.79 L1005.75,322.80 L1006.00,322.80 L1006.25,322.80 L1006.50,322.80 L1006.75,322.80 L1007.00,322.80 L1007.25,322.80 L1007.50,322.80 L1007.75,322.80 L1008.00,322.80 L1008.25,322.80 L1008.50,322.79 L1008.75,322.78 L1009.00,322.76 L1009.25,322.75 L1009.50,322.73 L1009.75,322.67 L1010.00,322.54 L1010.25,322.36 L1010.50,322.14 L1010.75,321.83 L1011.00,321.41 L1011.25,320.83 L1011.50,319.92 L1011.75,318.64 L1012.00,316.55 L1012.25,313.32 L1012.50,307.28 L1012.75,301.80 L1013.00,296.82 L1013.25,291.81 L1013.50,286.81 L1013.75,281.86 L1014.00,276.92 L1014.25,271.94 L1014.50,266.74 L1014.75,261.40 L1015.00,256.26 L1015.25,251.39 L1015.50,246.68 L1015.75,242.06 L1016.00,238.29 L1016.25,235.67 L1016.50,233.67 L1016.75,232.32 L1017.00,232.32 L1017.25,234.61 L1017.50,238.29 L1017.75,244.31 L1018.00,251.39 L1018.25,258.76 L1018.50,266.74 L1018.75,274.44 L1019.00,281.86 L1019.25,289.30 L1019.50,296.82 L1019.75,304.39 L1020.00,313.32 L1020.25,317.74 L1020.50,319.92 L1020.75,321.15 L1021.00,321.83 L1021.25,322.26" stroke="#1f4e79" stroke-width="4.5"/>
</g>
<text x="542.8" y="40.0" text-anchor="middle" font-family="Liberation Sans, Arial, sans-serif" font-size="31" font-weight="bold" fill="#000" textLength="634" lengthAdjust="spacingAndGlyphs">Monthly SWE - 1990 - 2050 - Valle Hermoso</text>
<text x="60.0" y="331.2" text-anchor="end" font-family="Liberation Sans, Arial, sans-serif" font-size="23.5" fill="#111">0</text>
<text x="60.0" y="295.6" text-anchor="end" font-family="Liberation Sans, Arial, sans-serif" font-size="23.5" fill="#111">200</text>
<text x="60.0" y="260.0" text-anchor="end" font-family="Liberation Sans, Arial, sans-serif" font-size="23.5" fill="#111">400</text>
<text x="60.0" y="224.3" text-anchor="end" font-family="Liberation Sans, Arial, sans-serif" font-size="23.5" fill="#111">600</text>
<text x="60.0" y="188.7" text-anchor="end" font-family="Liberation Sans, Arial, sans-serif" font-size="23.5" fill="#111">800</text>
<text x="60.0" y="153.1" text-anchor="end" font-family="Liberation Sans, Arial, sans-serif" font-size="23.5" fill="#111">1000</text>
<text x="60.0" y="117.5" text-anchor="end" font-family="Liberation Sans, Arial, sans-serif" font-size="23.5" fill="#111">1200</text>
<text x="60.0" y="81.9" text-anchor="end" font-family="Liberation Sans, Arial, sans-serif" font-size="23.5" fill="#111">1400</text>
<text x="85.6" y="364.6" text-anchor="middle" font-family="Liberation Sans, Arial, sans-serif" font-size="23.8" fill="#111">1990</text>
<text x="162.8" y="364.6" text-anchor="middle" font-family="Liberation Sans, Arial, sans-serif" font-size="23.8" fill="#111">1995</text>
<text x="240.1" y="364.6" text-anchor="middle" font-family="Liberation Sans, Arial, sans-serif" font-size="23.8" fill="#111">2000</text>
<text x="317.3" y="364.6" text-anchor="middle" font-family="Liberation Sans, Arial, sans-serif" font-size="23.8" fill="#111">2005</text>
<text x="394.5" y="364.6" text-anchor="middle" font-family="Liberation Sans, Arial, sans-serif" font-size="23.8" fill="#111">2010</text>
<text x="471.8" y="364.6" text-anchor="middle" font-family="Liberation Sans, Arial, sans-serif" font-size="23.8" fill="#111">2015</text>
<text x="549.0" y="364.6" text-anchor="middle" font-family="Liberation Sans, Arial, sans-serif" font-size="23.8" fill="#111">2020</text>
<text x="626.2" y="364.6" text-anchor="middle" font-family="Liberation Sans, Arial, sans-serif" font-size="23.8" fill="#111">2025</text>
<text x="703.5" y="364.6" text-anchor="middle" font-family="Liberation Sans, Arial, sans-serif" font-size="23.8" fill="#111">2030</text>
<text x="780.7" y="364.6" text-anchor="middle" font-family="Liberation Sans, Arial, sans-serif" font-size="23.8" fill="#111">2035</text>
<text x="857.9" y="364.6" text-anchor="middle" font-family="Liberation Sans, Arial, sans-serif" font-size="23.8" fill="#111">2040</text>
<text x="935.2" y="364.6" text-anchor="middle" font-family="Liberation Sans, Arial, sans-serif" font-size="23.8" fill="#111">2045</text>
<text x="1012.4" y="364.6" text-anchor="middle" font-family="Liberation Sans, Arial, sans-serif" font-size="23.8" fill="#111">2050</text>
<g fill="none" stroke-width="4.5" stroke-linecap="round"><path d="M99.05,399.3H155.45" stroke="#000"/><path d="M358.05,399.3H414.45" stroke="#5b9bd5"/><path d="M673.05,399.3H729.45" stroke="#1f4e79"/></g>
<text x="160.6" y="406.3" font-family="Liberation Sans, Arial, sans-serif" font-size="23.4" fill="#111" textLength="104" lengthAdjust="spacingAndGlyphs">Observed</text>
<text x="420.2" y="406.3" font-family="Liberation Sans, Arial, sans-serif" font-size="23.4" fill="#111" textLength="160" lengthAdjust="spacingAndGlyphs">EC-Earth3P-HR</text>
<text x="735.2" y="406.3" font-family="Liberation Sans, Arial, sans-serif" font-size="23.4" fill="#111" textLength="234" lengthAdjust="spacingAndGlyphs">EC-Earth3P-HR-future</text>
</svg>
</body></html>
